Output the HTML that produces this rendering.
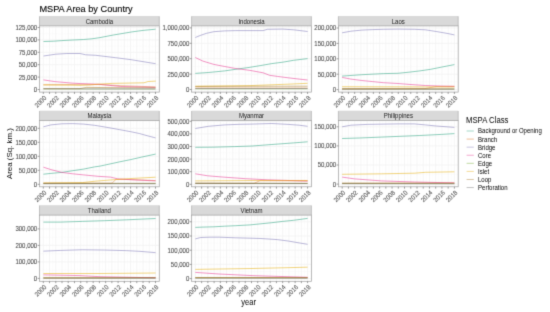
<!DOCTYPE html><html><head><meta charset="utf-8"><style>html,body{margin:0;padding:0;background:#fff;overflow:hidden;}svg{display:block;}</style></head><body>
<svg width="550" height="312" viewBox="0 0 550 312" font-family='"Liberation Sans", sans-serif'>
<defs><filter id="bl" x="0" y="0" width="550" height="312" filterUnits="userSpaceOnUse" color-interpolation-filters="sRGB"><feConvolveMatrix order="3" kernelMatrix="1 6 1 6 36 6 1 6 1" divisor="64" edgeMode="duplicate" preserveAlpha="true"/></filter></defs>
<style>text{stroke-width:0.12px;stroke-linejoin:round}.k{fill:#000;stroke:#000}.k0{fill:#000;stroke:none}.g{fill:#4d4d4d;stroke:#4d4d4d;stroke-width:0.08px}.s{fill:#1a1a1a;stroke:none}</style>
<g filter="url(#bl)">
<rect x="0" y="0" width="550" height="312" fill="#ffffff"/>
<text x="39.4" y="12.1" font-size="9.2" class="k">MSPA Area by Country</text>
<text transform="translate(12.3,153.6) rotate(-90)" text-anchor="middle" font-size="7.9" class="k0">Area (Sq. km.)</text>
<text transform="translate(248.6,304.6) scale(1,1.1)" text-anchor="middle" font-size="7.6" class="k0">year</text>
<g>
<rect x="39.5" y="25.9" width="119.8" height="66.2" fill="#fff"/>
<clipPath id="cCambodia"><rect x="39.5" y="25.9" width="119.8" height="66.2"/></clipPath>
<g clip-path="url(#cCambodia)">
<line x1="39.5" x2="159.3" y1="83.3" y2="83.3" stroke="#f6f6f6" stroke-width="0.36"/>
<line x1="39.5" x2="159.3" y1="70.9" y2="70.9" stroke="#f6f6f6" stroke-width="0.36"/>
<line x1="39.5" x2="159.3" y1="58.5" y2="58.5" stroke="#f6f6f6" stroke-width="0.36"/>
<line x1="39.5" x2="159.3" y1="46.1" y2="46.1" stroke="#f6f6f6" stroke-width="0.36"/>
<line x1="39.5" x2="159.3" y1="33.7" y2="33.7" stroke="#f6f6f6" stroke-width="0.36"/>
<line x1="40.18" x2="40.18" y1="25.9" y2="92.1" stroke="#f6f6f6" stroke-width="0.36"/>
<line x1="46.42" x2="46.42" y1="25.9" y2="92.1" stroke="#f6f6f6" stroke-width="0.36"/>
<line x1="52.65" x2="52.65" y1="25.9" y2="92.1" stroke="#f6f6f6" stroke-width="0.36"/>
<line x1="58.88" x2="58.88" y1="25.9" y2="92.1" stroke="#f6f6f6" stroke-width="0.36"/>
<line x1="65.12" x2="65.12" y1="25.9" y2="92.1" stroke="#f6f6f6" stroke-width="0.36"/>
<line x1="71.35" x2="71.35" y1="25.9" y2="92.1" stroke="#f6f6f6" stroke-width="0.36"/>
<line x1="77.58" x2="77.58" y1="25.9" y2="92.1" stroke="#f6f6f6" stroke-width="0.36"/>
<line x1="83.81" x2="83.81" y1="25.9" y2="92.1" stroke="#f6f6f6" stroke-width="0.36"/>
<line x1="90.05" x2="90.05" y1="25.9" y2="92.1" stroke="#f6f6f6" stroke-width="0.36"/>
<line x1="96.28" x2="96.28" y1="25.9" y2="92.1" stroke="#f6f6f6" stroke-width="0.36"/>
<line x1="102.51" x2="102.51" y1="25.9" y2="92.1" stroke="#f6f6f6" stroke-width="0.36"/>
<line x1="108.75" x2="108.75" y1="25.9" y2="92.1" stroke="#f6f6f6" stroke-width="0.36"/>
<line x1="114.98" x2="114.98" y1="25.9" y2="92.1" stroke="#f6f6f6" stroke-width="0.36"/>
<line x1="121.21" x2="121.21" y1="25.9" y2="92.1" stroke="#f6f6f6" stroke-width="0.36"/>
<line x1="127.45" x2="127.45" y1="25.9" y2="92.1" stroke="#f6f6f6" stroke-width="0.36"/>
<line x1="133.68" x2="133.68" y1="25.9" y2="92.1" stroke="#f6f6f6" stroke-width="0.36"/>
<line x1="139.91" x2="139.91" y1="25.9" y2="92.1" stroke="#f6f6f6" stroke-width="0.36"/>
<line x1="146.14" x2="146.14" y1="25.9" y2="92.1" stroke="#f6f6f6" stroke-width="0.36"/>
<line x1="152.38" x2="152.38" y1="25.9" y2="92.1" stroke="#f6f6f6" stroke-width="0.36"/>
<line x1="158.61" x2="158.61" y1="25.9" y2="92.1" stroke="#f6f6f6" stroke-width="0.36"/>
<line x1="39.5" x2="159.3" y1="89.5" y2="89.5" stroke="#f1f1f1" stroke-width="0.72"/>
<line x1="39.5" x2="159.3" y1="77.1" y2="77.1" stroke="#f1f1f1" stroke-width="0.72"/>
<line x1="39.5" x2="159.3" y1="64.7" y2="64.7" stroke="#f1f1f1" stroke-width="0.72"/>
<line x1="39.5" x2="159.3" y1="52.3" y2="52.3" stroke="#f1f1f1" stroke-width="0.72"/>
<line x1="39.5" x2="159.3" y1="39.9" y2="39.9" stroke="#f1f1f1" stroke-width="0.72"/>
<line x1="39.5" x2="159.3" y1="27.5" y2="27.5" stroke="#f1f1f1" stroke-width="0.72"/>
<line x1="43.3" x2="43.3" y1="25.9" y2="92.1" stroke="#f1f1f1" stroke-width="0.72"/>
<line x1="49.53" x2="49.53" y1="25.9" y2="92.1" stroke="#f1f1f1" stroke-width="0.72"/>
<line x1="55.77" x2="55.77" y1="25.9" y2="92.1" stroke="#f1f1f1" stroke-width="0.72"/>
<line x1="62" x2="62" y1="25.9" y2="92.1" stroke="#f1f1f1" stroke-width="0.72"/>
<line x1="68.23" x2="68.23" y1="25.9" y2="92.1" stroke="#f1f1f1" stroke-width="0.72"/>
<line x1="74.47" x2="74.47" y1="25.9" y2="92.1" stroke="#f1f1f1" stroke-width="0.72"/>
<line x1="80.7" x2="80.7" y1="25.9" y2="92.1" stroke="#f1f1f1" stroke-width="0.72"/>
<line x1="86.93" x2="86.93" y1="25.9" y2="92.1" stroke="#f1f1f1" stroke-width="0.72"/>
<line x1="93.16" x2="93.16" y1="25.9" y2="92.1" stroke="#f1f1f1" stroke-width="0.72"/>
<line x1="99.4" x2="99.4" y1="25.9" y2="92.1" stroke="#f1f1f1" stroke-width="0.72"/>
<line x1="105.63" x2="105.63" y1="25.9" y2="92.1" stroke="#f1f1f1" stroke-width="0.72"/>
<line x1="111.86" x2="111.86" y1="25.9" y2="92.1" stroke="#f1f1f1" stroke-width="0.72"/>
<line x1="118.1" x2="118.1" y1="25.9" y2="92.1" stroke="#f1f1f1" stroke-width="0.72"/>
<line x1="124.33" x2="124.33" y1="25.9" y2="92.1" stroke="#f1f1f1" stroke-width="0.72"/>
<line x1="130.56" x2="130.56" y1="25.9" y2="92.1" stroke="#f1f1f1" stroke-width="0.72"/>
<line x1="136.79" x2="136.79" y1="25.9" y2="92.1" stroke="#f1f1f1" stroke-width="0.72"/>
<line x1="143.03" x2="143.03" y1="25.9" y2="92.1" stroke="#f1f1f1" stroke-width="0.72"/>
<line x1="149.26" x2="149.26" y1="25.9" y2="92.1" stroke="#f1f1f1" stroke-width="0.72"/>
<line x1="155.49" x2="155.49" y1="25.9" y2="92.1" stroke="#f1f1f1" stroke-width="0.72"/>
<polyline points="43.5,41.5 53.5,41.2 61.8,40.6 72.7,40 83.6,39.5 92,38.8 100,37.6 113.4,35 131.2,32 143,30.4 155.6,29.2" fill="none" stroke="#1B9E77" stroke-width="1.0" stroke-opacity="0.5" stroke-linejoin="round" stroke-linecap="butt"/>
<polyline points="43.4,84.7 70,84.5 80,84.4 98,84.4 120,85.6 155.5,86.9" fill="none" stroke="#D95F02" stroke-width="1.0" stroke-opacity="0.38" stroke-linejoin="round" stroke-linecap="butt"/>
<polyline points="43.5,56 55.7,54.2 66.8,53.5 80.1,53.5 85.7,54.8 95.7,55.3 115.6,57.7 131.2,59.7 148.9,62.6 155.6,63.7" fill="none" stroke="#7570B3" stroke-width="1.0" stroke-opacity="0.5" stroke-linejoin="round" stroke-linecap="butt"/>
<polyline points="43.4,79.9 54.9,81.6 71.8,83.1 80.8,83.6 100,84.4 120.5,86.5 155.5,87.4" fill="none" stroke="#E7298A" stroke-width="1.0" stroke-opacity="0.5" stroke-linejoin="round" stroke-linecap="butt"/>
<polyline points="43.4,89.1 155.5,89.2" fill="none" stroke="#66A61E" stroke-width="1.0" stroke-opacity="0.3" stroke-linejoin="round" stroke-linecap="butt"/>
<polyline points="43.4,85 70,85.2 80,85.4 90,85 98,84.2 112.2,83.4 143.8,82.8 148.2,81.5 155.8,81.1" fill="none" stroke="#E6AB02" stroke-width="1.0" stroke-opacity="0.5" stroke-linejoin="round" stroke-linecap="butt"/>
<polyline points="43.4,88.6 80,88.6 86.6,87.4 120,87.7 155.5,87.9" fill="none" stroke="#A6761D" stroke-width="1.0" stroke-opacity="0.5" stroke-linejoin="round" stroke-linecap="butt"/>
<polyline points="43.4,88.8 155.5,88.9" fill="none" stroke="#666666" stroke-width="1.0" stroke-opacity="0.5" stroke-linejoin="round" stroke-linecap="butt"/>
</g>
<rect x="39.5" y="16" width="119.8" height="9.9" fill="#d9d9d9"/>
<path d="M39.5,25.9V16.3M159.3,16.3V25.9" fill="none" stroke="#b0b0b0" stroke-width="0.72"/>
<rect x="39.5" y="25.9" width="119.8" height="66.2" fill="none" stroke="#a0a0a0" stroke-width="0.72"/>
<text transform="translate(99.4,23.7) scale(1,1.07)" text-anchor="middle" font-size="6.05" class="s">Cambodia</text>
<line x1="37.65" x2="39.5" y1="89.5" y2="89.5" stroke="#777" stroke-width="0.72"/>
<text transform="translate(37.2,91.95) scale(1,1.07)" text-anchor="end" font-size="6.05" class="g">0</text>
<line x1="37.65" x2="39.5" y1="77.1" y2="77.1" stroke="#777" stroke-width="0.72"/>
<text transform="translate(37.2,79.55) scale(1,1.07)" text-anchor="end" font-size="6.05" class="g">25,000</text>
<line x1="37.65" x2="39.5" y1="64.7" y2="64.7" stroke="#777" stroke-width="0.72"/>
<text transform="translate(37.2,67.15) scale(1,1.07)" text-anchor="end" font-size="6.05" class="g">50,000</text>
<line x1="37.65" x2="39.5" y1="52.3" y2="52.3" stroke="#777" stroke-width="0.72"/>
<text transform="translate(37.2,54.75) scale(1,1.07)" text-anchor="end" font-size="6.05" class="g">75,000</text>
<line x1="37.65" x2="39.5" y1="39.9" y2="39.9" stroke="#777" stroke-width="0.72"/>
<text transform="translate(37.2,42.35) scale(1,1.07)" text-anchor="end" font-size="6.05" class="g">100,000</text>
<line x1="37.65" x2="39.5" y1="27.5" y2="27.5" stroke="#777" stroke-width="0.72"/>
<text transform="translate(37.2,29.95) scale(1,1.07)" text-anchor="end" font-size="6.05" class="g">125,000</text>
<line x1="43.3" x2="43.3" y1="92.1" y2="93.95" stroke="#777" stroke-width="0.72"/>
<text transform="translate(46.8,98.4) rotate(-45) scale(1,1.07)" text-anchor="end" font-size="6.05" class="g">2000</text>
<line x1="49.53" x2="49.53" y1="92.1" y2="93.95" stroke="#777" stroke-width="0.72"/>
<line x1="55.77" x2="55.77" y1="92.1" y2="93.95" stroke="#777" stroke-width="0.72"/>
<text transform="translate(59.27,98.4) rotate(-45) scale(1,1.07)" text-anchor="end" font-size="6.05" class="g">2002</text>
<line x1="62" x2="62" y1="92.1" y2="93.95" stroke="#777" stroke-width="0.72"/>
<line x1="68.23" x2="68.23" y1="92.1" y2="93.95" stroke="#777" stroke-width="0.72"/>
<text transform="translate(71.73,98.4) rotate(-45) scale(1,1.07)" text-anchor="end" font-size="6.05" class="g">2004</text>
<line x1="74.47" x2="74.47" y1="92.1" y2="93.95" stroke="#777" stroke-width="0.72"/>
<line x1="80.7" x2="80.7" y1="92.1" y2="93.95" stroke="#777" stroke-width="0.72"/>
<text transform="translate(84.2,98.4) rotate(-45) scale(1,1.07)" text-anchor="end" font-size="6.05" class="g">2006</text>
<line x1="86.93" x2="86.93" y1="92.1" y2="93.95" stroke="#777" stroke-width="0.72"/>
<line x1="93.16" x2="93.16" y1="92.1" y2="93.95" stroke="#777" stroke-width="0.72"/>
<text transform="translate(96.66,98.4) rotate(-45) scale(1,1.07)" text-anchor="end" font-size="6.05" class="g">2008</text>
<line x1="99.4" x2="99.4" y1="92.1" y2="93.95" stroke="#777" stroke-width="0.72"/>
<line x1="105.63" x2="105.63" y1="92.1" y2="93.95" stroke="#777" stroke-width="0.72"/>
<text transform="translate(109.13,98.4) rotate(-45) scale(1,1.07)" text-anchor="end" font-size="6.05" class="g">2010</text>
<line x1="111.86" x2="111.86" y1="92.1" y2="93.95" stroke="#777" stroke-width="0.72"/>
<line x1="118.1" x2="118.1" y1="92.1" y2="93.95" stroke="#777" stroke-width="0.72"/>
<text transform="translate(121.6,98.4) rotate(-45) scale(1,1.07)" text-anchor="end" font-size="6.05" class="g">2012</text>
<line x1="124.33" x2="124.33" y1="92.1" y2="93.95" stroke="#777" stroke-width="0.72"/>
<line x1="130.56" x2="130.56" y1="92.1" y2="93.95" stroke="#777" stroke-width="0.72"/>
<text transform="translate(134.06,98.4) rotate(-45) scale(1,1.07)" text-anchor="end" font-size="6.05" class="g">2014</text>
<line x1="136.79" x2="136.79" y1="92.1" y2="93.95" stroke="#777" stroke-width="0.72"/>
<line x1="143.03" x2="143.03" y1="92.1" y2="93.95" stroke="#777" stroke-width="0.72"/>
<text transform="translate(146.53,98.4) rotate(-45) scale(1,1.07)" text-anchor="end" font-size="6.05" class="g">2016</text>
<line x1="149.26" x2="149.26" y1="92.1" y2="93.95" stroke="#777" stroke-width="0.72"/>
<line x1="155.49" x2="155.49" y1="92.1" y2="93.95" stroke="#777" stroke-width="0.72"/>
<text transform="translate(158.99,98.4) rotate(-45) scale(1,1.07)" text-anchor="end" font-size="6.05" class="g">2018</text>
</g>
<g>
<rect x="191.6" y="25.9" width="119.8" height="66.2" fill="#fff"/>
<clipPath id="cIndonesia"><rect x="191.6" y="25.9" width="119.8" height="66.2"/></clipPath>
<g clip-path="url(#cIndonesia)">
<line x1="191.6" x2="311.4" y1="81.8" y2="81.8" stroke="#f6f6f6" stroke-width="0.36"/>
<line x1="191.6" x2="311.4" y1="66.4" y2="66.4" stroke="#f6f6f6" stroke-width="0.36"/>
<line x1="191.6" x2="311.4" y1="51" y2="51" stroke="#f6f6f6" stroke-width="0.36"/>
<line x1="191.6" x2="311.4" y1="35.6" y2="35.6" stroke="#f6f6f6" stroke-width="0.36"/>
<line x1="192.28" x2="192.28" y1="25.9" y2="92.1" stroke="#f6f6f6" stroke-width="0.36"/>
<line x1="198.52" x2="198.52" y1="25.9" y2="92.1" stroke="#f6f6f6" stroke-width="0.36"/>
<line x1="204.75" x2="204.75" y1="25.9" y2="92.1" stroke="#f6f6f6" stroke-width="0.36"/>
<line x1="210.98" x2="210.98" y1="25.9" y2="92.1" stroke="#f6f6f6" stroke-width="0.36"/>
<line x1="217.22" x2="217.22" y1="25.9" y2="92.1" stroke="#f6f6f6" stroke-width="0.36"/>
<line x1="223.45" x2="223.45" y1="25.9" y2="92.1" stroke="#f6f6f6" stroke-width="0.36"/>
<line x1="229.68" x2="229.68" y1="25.9" y2="92.1" stroke="#f6f6f6" stroke-width="0.36"/>
<line x1="235.91" x2="235.91" y1="25.9" y2="92.1" stroke="#f6f6f6" stroke-width="0.36"/>
<line x1="242.15" x2="242.15" y1="25.9" y2="92.1" stroke="#f6f6f6" stroke-width="0.36"/>
<line x1="248.38" x2="248.38" y1="25.9" y2="92.1" stroke="#f6f6f6" stroke-width="0.36"/>
<line x1="254.61" x2="254.61" y1="25.9" y2="92.1" stroke="#f6f6f6" stroke-width="0.36"/>
<line x1="260.85" x2="260.85" y1="25.9" y2="92.1" stroke="#f6f6f6" stroke-width="0.36"/>
<line x1="267.08" x2="267.08" y1="25.9" y2="92.1" stroke="#f6f6f6" stroke-width="0.36"/>
<line x1="273.31" x2="273.31" y1="25.9" y2="92.1" stroke="#f6f6f6" stroke-width="0.36"/>
<line x1="279.55" x2="279.55" y1="25.9" y2="92.1" stroke="#f6f6f6" stroke-width="0.36"/>
<line x1="285.78" x2="285.78" y1="25.9" y2="92.1" stroke="#f6f6f6" stroke-width="0.36"/>
<line x1="292.01" x2="292.01" y1="25.9" y2="92.1" stroke="#f6f6f6" stroke-width="0.36"/>
<line x1="298.24" x2="298.24" y1="25.9" y2="92.1" stroke="#f6f6f6" stroke-width="0.36"/>
<line x1="304.48" x2="304.48" y1="25.9" y2="92.1" stroke="#f6f6f6" stroke-width="0.36"/>
<line x1="310.71" x2="310.71" y1="25.9" y2="92.1" stroke="#f6f6f6" stroke-width="0.36"/>
<line x1="191.6" x2="311.4" y1="89.5" y2="89.5" stroke="#f1f1f1" stroke-width="0.72"/>
<line x1="191.6" x2="311.4" y1="74.1" y2="74.1" stroke="#f1f1f1" stroke-width="0.72"/>
<line x1="191.6" x2="311.4" y1="58.7" y2="58.7" stroke="#f1f1f1" stroke-width="0.72"/>
<line x1="191.6" x2="311.4" y1="43.3" y2="43.3" stroke="#f1f1f1" stroke-width="0.72"/>
<line x1="191.6" x2="311.4" y1="27.9" y2="27.9" stroke="#f1f1f1" stroke-width="0.72"/>
<line x1="195.4" x2="195.4" y1="25.9" y2="92.1" stroke="#f1f1f1" stroke-width="0.72"/>
<line x1="201.63" x2="201.63" y1="25.9" y2="92.1" stroke="#f1f1f1" stroke-width="0.72"/>
<line x1="207.87" x2="207.87" y1="25.9" y2="92.1" stroke="#f1f1f1" stroke-width="0.72"/>
<line x1="214.1" x2="214.1" y1="25.9" y2="92.1" stroke="#f1f1f1" stroke-width="0.72"/>
<line x1="220.33" x2="220.33" y1="25.9" y2="92.1" stroke="#f1f1f1" stroke-width="0.72"/>
<line x1="226.56" x2="226.56" y1="25.9" y2="92.1" stroke="#f1f1f1" stroke-width="0.72"/>
<line x1="232.8" x2="232.8" y1="25.9" y2="92.1" stroke="#f1f1f1" stroke-width="0.72"/>
<line x1="239.03" x2="239.03" y1="25.9" y2="92.1" stroke="#f1f1f1" stroke-width="0.72"/>
<line x1="245.26" x2="245.26" y1="25.9" y2="92.1" stroke="#f1f1f1" stroke-width="0.72"/>
<line x1="251.5" x2="251.5" y1="25.9" y2="92.1" stroke="#f1f1f1" stroke-width="0.72"/>
<line x1="257.73" x2="257.73" y1="25.9" y2="92.1" stroke="#f1f1f1" stroke-width="0.72"/>
<line x1="263.96" x2="263.96" y1="25.9" y2="92.1" stroke="#f1f1f1" stroke-width="0.72"/>
<line x1="270.2" x2="270.2" y1="25.9" y2="92.1" stroke="#f1f1f1" stroke-width="0.72"/>
<line x1="276.43" x2="276.43" y1="25.9" y2="92.1" stroke="#f1f1f1" stroke-width="0.72"/>
<line x1="282.66" x2="282.66" y1="25.9" y2="92.1" stroke="#f1f1f1" stroke-width="0.72"/>
<line x1="288.89" x2="288.89" y1="25.9" y2="92.1" stroke="#f1f1f1" stroke-width="0.72"/>
<line x1="295.13" x2="295.13" y1="25.9" y2="92.1" stroke="#f1f1f1" stroke-width="0.72"/>
<line x1="301.36" x2="301.36" y1="25.9" y2="92.1" stroke="#f1f1f1" stroke-width="0.72"/>
<line x1="307.59" x2="307.59" y1="25.9" y2="92.1" stroke="#f1f1f1" stroke-width="0.72"/>
<polyline points="195.3,73.4 208.4,72.5 224.7,70.9 237.8,69 250,67.3 260.9,65.5 271.8,63.6 282.7,62.2 293.6,60.3 307.6,58.6" fill="none" stroke="#1B9E77" stroke-width="1.0" stroke-opacity="0.5" stroke-linejoin="round" stroke-linecap="butt"/>
<polyline points="195.3,88 307.6,88" fill="none" stroke="#D95F02" stroke-width="1.0" stroke-opacity="0.38" stroke-linejoin="round" stroke-linecap="butt"/>
<polyline points="195.3,37.5 200.7,35.3 206.2,33.4 213.8,31.7 224.7,30.9 235.6,30.6 252,30.6 263.1,30.6 267.4,29.3 282.7,29.1 293.6,29.8 307.6,31.5" fill="none" stroke="#7570B3" stroke-width="1.0" stroke-opacity="0.5" stroke-linejoin="round" stroke-linecap="butt"/>
<polyline points="195.3,57.5 202.9,61.1 213.8,64.4 224.7,66.5 235.6,68.5 250,70.4 263.1,72.8 269.6,75.3 277.3,76.4 288.2,77.8 299.1,79.1 307.6,80" fill="none" stroke="#E7298A" stroke-width="1.0" stroke-opacity="0.5" stroke-linejoin="round" stroke-linecap="butt"/>
<polyline points="195.3,89 307.6,89" fill="none" stroke="#66A61E" stroke-width="1.0" stroke-opacity="0.3" stroke-linejoin="round" stroke-linecap="butt"/>
<polyline points="195.3,86.2 250,85.6 290,84.1 307.6,83.3" fill="none" stroke="#E6AB02" stroke-width="1.0" stroke-opacity="0.5" stroke-linejoin="round" stroke-linecap="butt"/>
<polyline points="195.3,86.5 250,86.3 307.6,86.2" fill="none" stroke="#A6761D" stroke-width="1.0" stroke-opacity="0.5" stroke-linejoin="round" stroke-linecap="butt"/>
<polyline points="195.3,88.5 307.6,88.5" fill="none" stroke="#666666" stroke-width="1.0" stroke-opacity="0.5" stroke-linejoin="round" stroke-linecap="butt"/>
</g>
<rect x="191.6" y="16" width="119.8" height="9.9" fill="#d9d9d9"/>
<path d="M191.6,25.9V16.3M311.4,16.3V25.9" fill="none" stroke="#b0b0b0" stroke-width="0.72"/>
<rect x="191.6" y="25.9" width="119.8" height="66.2" fill="none" stroke="#a0a0a0" stroke-width="0.72"/>
<text transform="translate(251.5,23.7) scale(1,1.07)" text-anchor="middle" font-size="6.05" class="s">Indonesia</text>
<line x1="189.75" x2="191.6" y1="89.5" y2="89.5" stroke="#777" stroke-width="0.72"/>
<text transform="translate(189.3,91.95) scale(1,1.07)" text-anchor="end" font-size="6.05" class="g">0</text>
<line x1="189.75" x2="191.6" y1="74.1" y2="74.1" stroke="#777" stroke-width="0.72"/>
<text transform="translate(189.3,76.55) scale(1,1.07)" text-anchor="end" font-size="6.05" class="g">250,000</text>
<line x1="189.75" x2="191.6" y1="58.7" y2="58.7" stroke="#777" stroke-width="0.72"/>
<text transform="translate(189.3,61.15) scale(1,1.07)" text-anchor="end" font-size="6.05" class="g">500,000</text>
<line x1="189.75" x2="191.6" y1="43.3" y2="43.3" stroke="#777" stroke-width="0.72"/>
<text transform="translate(189.3,45.75) scale(1,1.07)" text-anchor="end" font-size="6.05" class="g">750,000</text>
<line x1="189.75" x2="191.6" y1="27.9" y2="27.9" stroke="#777" stroke-width="0.72"/>
<text transform="translate(189.3,30.35) scale(1,1.07)" text-anchor="end" font-size="6.05" class="g">1,000,000</text>
<line x1="195.4" x2="195.4" y1="92.1" y2="93.95" stroke="#777" stroke-width="0.72"/>
<text transform="translate(198.9,98.4) rotate(-45) scale(1,1.07)" text-anchor="end" font-size="6.05" class="g">2000</text>
<line x1="201.63" x2="201.63" y1="92.1" y2="93.95" stroke="#777" stroke-width="0.72"/>
<line x1="207.87" x2="207.87" y1="92.1" y2="93.95" stroke="#777" stroke-width="0.72"/>
<text transform="translate(211.37,98.4) rotate(-45) scale(1,1.07)" text-anchor="end" font-size="6.05" class="g">2002</text>
<line x1="214.1" x2="214.1" y1="92.1" y2="93.95" stroke="#777" stroke-width="0.72"/>
<line x1="220.33" x2="220.33" y1="92.1" y2="93.95" stroke="#777" stroke-width="0.72"/>
<text transform="translate(223.83,98.4) rotate(-45) scale(1,1.07)" text-anchor="end" font-size="6.05" class="g">2004</text>
<line x1="226.56" x2="226.56" y1="92.1" y2="93.95" stroke="#777" stroke-width="0.72"/>
<line x1="232.8" x2="232.8" y1="92.1" y2="93.95" stroke="#777" stroke-width="0.72"/>
<text transform="translate(236.3,98.4) rotate(-45) scale(1,1.07)" text-anchor="end" font-size="6.05" class="g">2006</text>
<line x1="239.03" x2="239.03" y1="92.1" y2="93.95" stroke="#777" stroke-width="0.72"/>
<line x1="245.26" x2="245.26" y1="92.1" y2="93.95" stroke="#777" stroke-width="0.72"/>
<text transform="translate(248.76,98.4) rotate(-45) scale(1,1.07)" text-anchor="end" font-size="6.05" class="g">2008</text>
<line x1="251.5" x2="251.5" y1="92.1" y2="93.95" stroke="#777" stroke-width="0.72"/>
<line x1="257.73" x2="257.73" y1="92.1" y2="93.95" stroke="#777" stroke-width="0.72"/>
<text transform="translate(261.23,98.4) rotate(-45) scale(1,1.07)" text-anchor="end" font-size="6.05" class="g">2010</text>
<line x1="263.96" x2="263.96" y1="92.1" y2="93.95" stroke="#777" stroke-width="0.72"/>
<line x1="270.2" x2="270.2" y1="92.1" y2="93.95" stroke="#777" stroke-width="0.72"/>
<text transform="translate(273.7,98.4) rotate(-45) scale(1,1.07)" text-anchor="end" font-size="6.05" class="g">2012</text>
<line x1="276.43" x2="276.43" y1="92.1" y2="93.95" stroke="#777" stroke-width="0.72"/>
<line x1="282.66" x2="282.66" y1="92.1" y2="93.95" stroke="#777" stroke-width="0.72"/>
<text transform="translate(286.16,98.4) rotate(-45) scale(1,1.07)" text-anchor="end" font-size="6.05" class="g">2014</text>
<line x1="288.89" x2="288.89" y1="92.1" y2="93.95" stroke="#777" stroke-width="0.72"/>
<line x1="295.13" x2="295.13" y1="92.1" y2="93.95" stroke="#777" stroke-width="0.72"/>
<text transform="translate(298.63,98.4) rotate(-45) scale(1,1.07)" text-anchor="end" font-size="6.05" class="g">2016</text>
<line x1="301.36" x2="301.36" y1="92.1" y2="93.95" stroke="#777" stroke-width="0.72"/>
<line x1="307.59" x2="307.59" y1="92.1" y2="93.95" stroke="#777" stroke-width="0.72"/>
<text transform="translate(311.09,98.4) rotate(-45) scale(1,1.07)" text-anchor="end" font-size="6.05" class="g">2018</text>
</g>
<g>
<rect x="338.4" y="25.9" width="119.8" height="66.2" fill="#fff"/>
<clipPath id="cLaos"><rect x="338.4" y="25.9" width="119.8" height="66.2"/></clipPath>
<g clip-path="url(#cLaos)">
<line x1="338.4" x2="458.2" y1="81.9" y2="81.9" stroke="#f6f6f6" stroke-width="0.36"/>
<line x1="338.4" x2="458.2" y1="66.5" y2="66.5" stroke="#f6f6f6" stroke-width="0.36"/>
<line x1="338.4" x2="458.2" y1="51.1" y2="51.1" stroke="#f6f6f6" stroke-width="0.36"/>
<line x1="338.4" x2="458.2" y1="35.7" y2="35.7" stroke="#f6f6f6" stroke-width="0.36"/>
<line x1="339.08" x2="339.08" y1="25.9" y2="92.1" stroke="#f6f6f6" stroke-width="0.36"/>
<line x1="345.32" x2="345.32" y1="25.9" y2="92.1" stroke="#f6f6f6" stroke-width="0.36"/>
<line x1="351.55" x2="351.55" y1="25.9" y2="92.1" stroke="#f6f6f6" stroke-width="0.36"/>
<line x1="357.78" x2="357.78" y1="25.9" y2="92.1" stroke="#f6f6f6" stroke-width="0.36"/>
<line x1="364.02" x2="364.02" y1="25.9" y2="92.1" stroke="#f6f6f6" stroke-width="0.36"/>
<line x1="370.25" x2="370.25" y1="25.9" y2="92.1" stroke="#f6f6f6" stroke-width="0.36"/>
<line x1="376.48" x2="376.48" y1="25.9" y2="92.1" stroke="#f6f6f6" stroke-width="0.36"/>
<line x1="382.71" x2="382.71" y1="25.9" y2="92.1" stroke="#f6f6f6" stroke-width="0.36"/>
<line x1="388.95" x2="388.95" y1="25.9" y2="92.1" stroke="#f6f6f6" stroke-width="0.36"/>
<line x1="395.18" x2="395.18" y1="25.9" y2="92.1" stroke="#f6f6f6" stroke-width="0.36"/>
<line x1="401.41" x2="401.41" y1="25.9" y2="92.1" stroke="#f6f6f6" stroke-width="0.36"/>
<line x1="407.65" x2="407.65" y1="25.9" y2="92.1" stroke="#f6f6f6" stroke-width="0.36"/>
<line x1="413.88" x2="413.88" y1="25.9" y2="92.1" stroke="#f6f6f6" stroke-width="0.36"/>
<line x1="420.11" x2="420.11" y1="25.9" y2="92.1" stroke="#f6f6f6" stroke-width="0.36"/>
<line x1="426.35" x2="426.35" y1="25.9" y2="92.1" stroke="#f6f6f6" stroke-width="0.36"/>
<line x1="432.58" x2="432.58" y1="25.9" y2="92.1" stroke="#f6f6f6" stroke-width="0.36"/>
<line x1="438.81" x2="438.81" y1="25.9" y2="92.1" stroke="#f6f6f6" stroke-width="0.36"/>
<line x1="445.04" x2="445.04" y1="25.9" y2="92.1" stroke="#f6f6f6" stroke-width="0.36"/>
<line x1="451.28" x2="451.28" y1="25.9" y2="92.1" stroke="#f6f6f6" stroke-width="0.36"/>
<line x1="457.51" x2="457.51" y1="25.9" y2="92.1" stroke="#f6f6f6" stroke-width="0.36"/>
<line x1="338.4" x2="458.2" y1="89.6" y2="89.6" stroke="#f1f1f1" stroke-width="0.72"/>
<line x1="338.4" x2="458.2" y1="74.2" y2="74.2" stroke="#f1f1f1" stroke-width="0.72"/>
<line x1="338.4" x2="458.2" y1="58.8" y2="58.8" stroke="#f1f1f1" stroke-width="0.72"/>
<line x1="338.4" x2="458.2" y1="43.4" y2="43.4" stroke="#f1f1f1" stroke-width="0.72"/>
<line x1="338.4" x2="458.2" y1="28" y2="28" stroke="#f1f1f1" stroke-width="0.72"/>
<line x1="342.2" x2="342.2" y1="25.9" y2="92.1" stroke="#f1f1f1" stroke-width="0.72"/>
<line x1="348.43" x2="348.43" y1="25.9" y2="92.1" stroke="#f1f1f1" stroke-width="0.72"/>
<line x1="354.67" x2="354.67" y1="25.9" y2="92.1" stroke="#f1f1f1" stroke-width="0.72"/>
<line x1="360.9" x2="360.9" y1="25.9" y2="92.1" stroke="#f1f1f1" stroke-width="0.72"/>
<line x1="367.13" x2="367.13" y1="25.9" y2="92.1" stroke="#f1f1f1" stroke-width="0.72"/>
<line x1="373.37" x2="373.37" y1="25.9" y2="92.1" stroke="#f1f1f1" stroke-width="0.72"/>
<line x1="379.6" x2="379.6" y1="25.9" y2="92.1" stroke="#f1f1f1" stroke-width="0.72"/>
<line x1="385.83" x2="385.83" y1="25.9" y2="92.1" stroke="#f1f1f1" stroke-width="0.72"/>
<line x1="392.06" x2="392.06" y1="25.9" y2="92.1" stroke="#f1f1f1" stroke-width="0.72"/>
<line x1="398.3" x2="398.3" y1="25.9" y2="92.1" stroke="#f1f1f1" stroke-width="0.72"/>
<line x1="404.53" x2="404.53" y1="25.9" y2="92.1" stroke="#f1f1f1" stroke-width="0.72"/>
<line x1="410.76" x2="410.76" y1="25.9" y2="92.1" stroke="#f1f1f1" stroke-width="0.72"/>
<line x1="417" x2="417" y1="25.9" y2="92.1" stroke="#f1f1f1" stroke-width="0.72"/>
<line x1="423.23" x2="423.23" y1="25.9" y2="92.1" stroke="#f1f1f1" stroke-width="0.72"/>
<line x1="429.46" x2="429.46" y1="25.9" y2="92.1" stroke="#f1f1f1" stroke-width="0.72"/>
<line x1="435.69" x2="435.69" y1="25.9" y2="92.1" stroke="#f1f1f1" stroke-width="0.72"/>
<line x1="441.93" x2="441.93" y1="25.9" y2="92.1" stroke="#f1f1f1" stroke-width="0.72"/>
<line x1="448.16" x2="448.16" y1="25.9" y2="92.1" stroke="#f1f1f1" stroke-width="0.72"/>
<line x1="454.39" x2="454.39" y1="25.9" y2="92.1" stroke="#f1f1f1" stroke-width="0.72"/>
<polyline points="342.1,76.1 361.8,74.7 383.6,73.6 398,73.3 408.9,72.2 419.8,70.9 430.7,69.3 441.6,67.1 454.4,64.6" fill="none" stroke="#1B9E77" stroke-width="1.0" stroke-opacity="0.5" stroke-linejoin="round" stroke-linecap="butt"/>
<polyline points="342.1,88.9 425,88.6 436,86.5 454.4,86.3" fill="none" stroke="#D95F02" stroke-width="1.0" stroke-opacity="0.38" stroke-linejoin="round" stroke-linecap="butt"/>
<polyline points="342.1,32.8 350.9,31.2 361.8,30.1 372.7,29.6 383.6,29.3 398,29.1 414.4,29.3 425.3,29.8 436.2,31.5 447.1,33.4 454.4,34.9" fill="none" stroke="#7570B3" stroke-width="1.0" stroke-opacity="0.5" stroke-linejoin="round" stroke-linecap="butt"/>
<polyline points="342.1,77.4 350.9,79.1 361.8,80.5 372.7,81.6 383.6,82.7 398,83.5 409,84.4 425.3,85.5 441.6,86.1 454.4,86.4" fill="none" stroke="#E7298A" stroke-width="1.0" stroke-opacity="0.5" stroke-linejoin="round" stroke-linecap="butt"/>
<polyline points="342.1,89 454.4,89.1" fill="none" stroke="#66A61E" stroke-width="1.0" stroke-opacity="0.3" stroke-linejoin="round" stroke-linecap="butt"/>
<polyline points="342.1,86.7 400,86.8 454.4,87" fill="none" stroke="#E6AB02" stroke-width="1.0" stroke-opacity="0.5" stroke-linejoin="round" stroke-linecap="butt"/>
<polyline points="342.1,88.8 454.4,88.9" fill="none" stroke="#A6761D" stroke-width="1.0" stroke-opacity="0.5" stroke-linejoin="round" stroke-linecap="butt"/>
<polyline points="342.1,89.2 454.4,89.2" fill="none" stroke="#666666" stroke-width="1.0" stroke-opacity="0.5" stroke-linejoin="round" stroke-linecap="butt"/>
</g>
<rect x="338.4" y="16" width="119.8" height="9.9" fill="#d9d9d9"/>
<path d="M338.4,25.9V16.3M458.2,16.3V25.9" fill="none" stroke="#b0b0b0" stroke-width="0.72"/>
<rect x="338.4" y="25.9" width="119.8" height="66.2" fill="none" stroke="#a0a0a0" stroke-width="0.72"/>
<text transform="translate(398.3,23.7) scale(1,1.07)" text-anchor="middle" font-size="6.05" class="s">Laos</text>
<line x1="336.55" x2="338.4" y1="89.6" y2="89.6" stroke="#777" stroke-width="0.72"/>
<text transform="translate(336.1,92.05) scale(1,1.07)" text-anchor="end" font-size="6.05" class="g">0</text>
<line x1="336.55" x2="338.4" y1="74.2" y2="74.2" stroke="#777" stroke-width="0.72"/>
<text transform="translate(336.1,76.65) scale(1,1.07)" text-anchor="end" font-size="6.05" class="g">50,000</text>
<line x1="336.55" x2="338.4" y1="58.8" y2="58.8" stroke="#777" stroke-width="0.72"/>
<text transform="translate(336.1,61.25) scale(1,1.07)" text-anchor="end" font-size="6.05" class="g">100,000</text>
<line x1="336.55" x2="338.4" y1="43.4" y2="43.4" stroke="#777" stroke-width="0.72"/>
<text transform="translate(336.1,45.85) scale(1,1.07)" text-anchor="end" font-size="6.05" class="g">150,000</text>
<line x1="336.55" x2="338.4" y1="28" y2="28" stroke="#777" stroke-width="0.72"/>
<text transform="translate(336.1,30.45) scale(1,1.07)" text-anchor="end" font-size="6.05" class="g">200,000</text>
<line x1="342.2" x2="342.2" y1="92.1" y2="93.95" stroke="#777" stroke-width="0.72"/>
<text transform="translate(345.7,98.4) rotate(-45) scale(1,1.07)" text-anchor="end" font-size="6.05" class="g">2000</text>
<line x1="348.43" x2="348.43" y1="92.1" y2="93.95" stroke="#777" stroke-width="0.72"/>
<line x1="354.67" x2="354.67" y1="92.1" y2="93.95" stroke="#777" stroke-width="0.72"/>
<text transform="translate(358.17,98.4) rotate(-45) scale(1,1.07)" text-anchor="end" font-size="6.05" class="g">2002</text>
<line x1="360.9" x2="360.9" y1="92.1" y2="93.95" stroke="#777" stroke-width="0.72"/>
<line x1="367.13" x2="367.13" y1="92.1" y2="93.95" stroke="#777" stroke-width="0.72"/>
<text transform="translate(370.63,98.4) rotate(-45) scale(1,1.07)" text-anchor="end" font-size="6.05" class="g">2004</text>
<line x1="373.37" x2="373.37" y1="92.1" y2="93.95" stroke="#777" stroke-width="0.72"/>
<line x1="379.6" x2="379.6" y1="92.1" y2="93.95" stroke="#777" stroke-width="0.72"/>
<text transform="translate(383.1,98.4) rotate(-45) scale(1,1.07)" text-anchor="end" font-size="6.05" class="g">2006</text>
<line x1="385.83" x2="385.83" y1="92.1" y2="93.95" stroke="#777" stroke-width="0.72"/>
<line x1="392.06" x2="392.06" y1="92.1" y2="93.95" stroke="#777" stroke-width="0.72"/>
<text transform="translate(395.56,98.4) rotate(-45) scale(1,1.07)" text-anchor="end" font-size="6.05" class="g">2008</text>
<line x1="398.3" x2="398.3" y1="92.1" y2="93.95" stroke="#777" stroke-width="0.72"/>
<line x1="404.53" x2="404.53" y1="92.1" y2="93.95" stroke="#777" stroke-width="0.72"/>
<text transform="translate(408.03,98.4) rotate(-45) scale(1,1.07)" text-anchor="end" font-size="6.05" class="g">2010</text>
<line x1="410.76" x2="410.76" y1="92.1" y2="93.95" stroke="#777" stroke-width="0.72"/>
<line x1="417" x2="417" y1="92.1" y2="93.95" stroke="#777" stroke-width="0.72"/>
<text transform="translate(420.5,98.4) rotate(-45) scale(1,1.07)" text-anchor="end" font-size="6.05" class="g">2012</text>
<line x1="423.23" x2="423.23" y1="92.1" y2="93.95" stroke="#777" stroke-width="0.72"/>
<line x1="429.46" x2="429.46" y1="92.1" y2="93.95" stroke="#777" stroke-width="0.72"/>
<text transform="translate(432.96,98.4) rotate(-45) scale(1,1.07)" text-anchor="end" font-size="6.05" class="g">2014</text>
<line x1="435.69" x2="435.69" y1="92.1" y2="93.95" stroke="#777" stroke-width="0.72"/>
<line x1="441.93" x2="441.93" y1="92.1" y2="93.95" stroke="#777" stroke-width="0.72"/>
<text transform="translate(445.43,98.4) rotate(-45) scale(1,1.07)" text-anchor="end" font-size="6.05" class="g">2016</text>
<line x1="448.16" x2="448.16" y1="92.1" y2="93.95" stroke="#777" stroke-width="0.72"/>
<line x1="454.39" x2="454.39" y1="92.1" y2="93.95" stroke="#777" stroke-width="0.72"/>
<text transform="translate(457.89,98.4) rotate(-45) scale(1,1.07)" text-anchor="end" font-size="6.05" class="g">2018</text>
</g>
<g>
<rect x="39.5" y="120.6" width="119.8" height="66.2" fill="#fff"/>
<clipPath id="cMalaysia"><rect x="39.5" y="120.6" width="119.8" height="66.2"/></clipPath>
<g clip-path="url(#cMalaysia)">
<line x1="39.5" x2="159.3" y1="177.3" y2="177.3" stroke="#f6f6f6" stroke-width="0.36"/>
<line x1="39.5" x2="159.3" y1="163.3" y2="163.3" stroke="#f6f6f6" stroke-width="0.36"/>
<line x1="39.5" x2="159.3" y1="149.3" y2="149.3" stroke="#f6f6f6" stroke-width="0.36"/>
<line x1="39.5" x2="159.3" y1="135.3" y2="135.3" stroke="#f6f6f6" stroke-width="0.36"/>
<line x1="39.5" x2="159.3" y1="121.3" y2="121.3" stroke="#f6f6f6" stroke-width="0.36"/>
<line x1="40.18" x2="40.18" y1="120.6" y2="186.8" stroke="#f6f6f6" stroke-width="0.36"/>
<line x1="46.42" x2="46.42" y1="120.6" y2="186.8" stroke="#f6f6f6" stroke-width="0.36"/>
<line x1="52.65" x2="52.65" y1="120.6" y2="186.8" stroke="#f6f6f6" stroke-width="0.36"/>
<line x1="58.88" x2="58.88" y1="120.6" y2="186.8" stroke="#f6f6f6" stroke-width="0.36"/>
<line x1="65.12" x2="65.12" y1="120.6" y2="186.8" stroke="#f6f6f6" stroke-width="0.36"/>
<line x1="71.35" x2="71.35" y1="120.6" y2="186.8" stroke="#f6f6f6" stroke-width="0.36"/>
<line x1="77.58" x2="77.58" y1="120.6" y2="186.8" stroke="#f6f6f6" stroke-width="0.36"/>
<line x1="83.81" x2="83.81" y1="120.6" y2="186.8" stroke="#f6f6f6" stroke-width="0.36"/>
<line x1="90.05" x2="90.05" y1="120.6" y2="186.8" stroke="#f6f6f6" stroke-width="0.36"/>
<line x1="96.28" x2="96.28" y1="120.6" y2="186.8" stroke="#f6f6f6" stroke-width="0.36"/>
<line x1="102.51" x2="102.51" y1="120.6" y2="186.8" stroke="#f6f6f6" stroke-width="0.36"/>
<line x1="108.75" x2="108.75" y1="120.6" y2="186.8" stroke="#f6f6f6" stroke-width="0.36"/>
<line x1="114.98" x2="114.98" y1="120.6" y2="186.8" stroke="#f6f6f6" stroke-width="0.36"/>
<line x1="121.21" x2="121.21" y1="120.6" y2="186.8" stroke="#f6f6f6" stroke-width="0.36"/>
<line x1="127.45" x2="127.45" y1="120.6" y2="186.8" stroke="#f6f6f6" stroke-width="0.36"/>
<line x1="133.68" x2="133.68" y1="120.6" y2="186.8" stroke="#f6f6f6" stroke-width="0.36"/>
<line x1="139.91" x2="139.91" y1="120.6" y2="186.8" stroke="#f6f6f6" stroke-width="0.36"/>
<line x1="146.14" x2="146.14" y1="120.6" y2="186.8" stroke="#f6f6f6" stroke-width="0.36"/>
<line x1="152.38" x2="152.38" y1="120.6" y2="186.8" stroke="#f6f6f6" stroke-width="0.36"/>
<line x1="158.61" x2="158.61" y1="120.6" y2="186.8" stroke="#f6f6f6" stroke-width="0.36"/>
<line x1="39.5" x2="159.3" y1="184.3" y2="184.3" stroke="#f1f1f1" stroke-width="0.72"/>
<line x1="39.5" x2="159.3" y1="170.3" y2="170.3" stroke="#f1f1f1" stroke-width="0.72"/>
<line x1="39.5" x2="159.3" y1="156.3" y2="156.3" stroke="#f1f1f1" stroke-width="0.72"/>
<line x1="39.5" x2="159.3" y1="142.3" y2="142.3" stroke="#f1f1f1" stroke-width="0.72"/>
<line x1="39.5" x2="159.3" y1="128.3" y2="128.3" stroke="#f1f1f1" stroke-width="0.72"/>
<line x1="43.3" x2="43.3" y1="120.6" y2="186.8" stroke="#f1f1f1" stroke-width="0.72"/>
<line x1="49.53" x2="49.53" y1="120.6" y2="186.8" stroke="#f1f1f1" stroke-width="0.72"/>
<line x1="55.77" x2="55.77" y1="120.6" y2="186.8" stroke="#f1f1f1" stroke-width="0.72"/>
<line x1="62" x2="62" y1="120.6" y2="186.8" stroke="#f1f1f1" stroke-width="0.72"/>
<line x1="68.23" x2="68.23" y1="120.6" y2="186.8" stroke="#f1f1f1" stroke-width="0.72"/>
<line x1="74.47" x2="74.47" y1="120.6" y2="186.8" stroke="#f1f1f1" stroke-width="0.72"/>
<line x1="80.7" x2="80.7" y1="120.6" y2="186.8" stroke="#f1f1f1" stroke-width="0.72"/>
<line x1="86.93" x2="86.93" y1="120.6" y2="186.8" stroke="#f1f1f1" stroke-width="0.72"/>
<line x1="93.16" x2="93.16" y1="120.6" y2="186.8" stroke="#f1f1f1" stroke-width="0.72"/>
<line x1="99.4" x2="99.4" y1="120.6" y2="186.8" stroke="#f1f1f1" stroke-width="0.72"/>
<line x1="105.63" x2="105.63" y1="120.6" y2="186.8" stroke="#f1f1f1" stroke-width="0.72"/>
<line x1="111.86" x2="111.86" y1="120.6" y2="186.8" stroke="#f1f1f1" stroke-width="0.72"/>
<line x1="118.1" x2="118.1" y1="120.6" y2="186.8" stroke="#f1f1f1" stroke-width="0.72"/>
<line x1="124.33" x2="124.33" y1="120.6" y2="186.8" stroke="#f1f1f1" stroke-width="0.72"/>
<line x1="130.56" x2="130.56" y1="120.6" y2="186.8" stroke="#f1f1f1" stroke-width="0.72"/>
<line x1="136.79" x2="136.79" y1="120.6" y2="186.8" stroke="#f1f1f1" stroke-width="0.72"/>
<line x1="143.03" x2="143.03" y1="120.6" y2="186.8" stroke="#f1f1f1" stroke-width="0.72"/>
<line x1="149.26" x2="149.26" y1="120.6" y2="186.8" stroke="#f1f1f1" stroke-width="0.72"/>
<line x1="155.49" x2="155.49" y1="120.6" y2="186.8" stroke="#f1f1f1" stroke-width="0.72"/>
<polyline points="43.4,174.2 50.9,173.4 61.8,172.4 72.7,170.7 83.6,169.1 94.5,166.9 100,166.1 108.9,164.2 119.8,161.8 130.7,159.6 141.6,157.1 155.6,154.1" fill="none" stroke="#1B9E77" stroke-width="1.0" stroke-opacity="0.5" stroke-linejoin="round" stroke-linecap="butt"/>
<polyline points="43.4,183.2 112,183.2 116,179.3 135,179.7 155.6,180.6" fill="none" stroke="#D95F02" stroke-width="1.0" stroke-opacity="0.38" stroke-linejoin="round" stroke-linecap="butt"/>
<polyline points="43.4,126.8 50.9,124.9 61.8,123.8 72.7,123.6 83.6,124.1 94.5,125.3 100,126.2 108.9,127.7 119.8,129.7 130.7,131.7 139.4,133.5 147.1,135.7 155.6,137.9" fill="none" stroke="#7570B3" stroke-width="1.0" stroke-opacity="0.5" stroke-linejoin="round" stroke-linecap="butt"/>
<polyline points="43.4,167.2 50.9,169.6 61.8,172.4 72.7,173.8 83.6,174.9 98,176.3 110.5,177.1 117.8,178.9 136,180 155.6,180.9" fill="none" stroke="#E7298A" stroke-width="1.0" stroke-opacity="0.5" stroke-linejoin="round" stroke-linecap="butt"/>
<polyline points="43.4,183.5 155.6,183.5" fill="none" stroke="#66A61E" stroke-width="1.0" stroke-opacity="0.3" stroke-linejoin="round" stroke-linecap="butt"/>
<polyline points="43.4,183 82.4,182.6 96,181.1 126,178.8 155.6,177.2" fill="none" stroke="#E6AB02" stroke-width="1.0" stroke-opacity="0.5" stroke-linejoin="round" stroke-linecap="butt"/>
<polyline points="43.4,183.3 155.6,183.3" fill="none" stroke="#A6761D" stroke-width="1.0" stroke-opacity="0.5" stroke-linejoin="round" stroke-linecap="butt"/>
<polyline points="43.4,183.7 155.6,183.7" fill="none" stroke="#666666" stroke-width="1.0" stroke-opacity="0.5" stroke-linejoin="round" stroke-linecap="butt"/>
</g>
<rect x="39.5" y="110.7" width="119.8" height="9.9" fill="#d9d9d9"/>
<path d="M39.5,120.6V111M159.3,111V120.6" fill="none" stroke="#b0b0b0" stroke-width="0.72"/>
<rect x="39.5" y="120.6" width="119.8" height="66.2" fill="none" stroke="#a0a0a0" stroke-width="0.72"/>
<text transform="translate(99.4,118.4) scale(1,1.07)" text-anchor="middle" font-size="6.05" class="s">Malaysia</text>
<line x1="37.65" x2="39.5" y1="184.3" y2="184.3" stroke="#777" stroke-width="0.72"/>
<text transform="translate(37.2,186.75) scale(1,1.07)" text-anchor="end" font-size="6.05" class="g">0</text>
<line x1="37.65" x2="39.5" y1="170.3" y2="170.3" stroke="#777" stroke-width="0.72"/>
<text transform="translate(37.2,172.75) scale(1,1.07)" text-anchor="end" font-size="6.05" class="g">50,000</text>
<line x1="37.65" x2="39.5" y1="156.3" y2="156.3" stroke="#777" stroke-width="0.72"/>
<text transform="translate(37.2,158.75) scale(1,1.07)" text-anchor="end" font-size="6.05" class="g">100,000</text>
<line x1="37.65" x2="39.5" y1="142.3" y2="142.3" stroke="#777" stroke-width="0.72"/>
<text transform="translate(37.2,144.75) scale(1,1.07)" text-anchor="end" font-size="6.05" class="g">150,000</text>
<line x1="37.65" x2="39.5" y1="128.3" y2="128.3" stroke="#777" stroke-width="0.72"/>
<text transform="translate(37.2,130.75) scale(1,1.07)" text-anchor="end" font-size="6.05" class="g">200,000</text>
<line x1="43.3" x2="43.3" y1="186.8" y2="188.65" stroke="#777" stroke-width="0.72"/>
<text transform="translate(46.8,193.1) rotate(-45) scale(1,1.07)" text-anchor="end" font-size="6.05" class="g">2000</text>
<line x1="49.53" x2="49.53" y1="186.8" y2="188.65" stroke="#777" stroke-width="0.72"/>
<line x1="55.77" x2="55.77" y1="186.8" y2="188.65" stroke="#777" stroke-width="0.72"/>
<text transform="translate(59.27,193.1) rotate(-45) scale(1,1.07)" text-anchor="end" font-size="6.05" class="g">2002</text>
<line x1="62" x2="62" y1="186.8" y2="188.65" stroke="#777" stroke-width="0.72"/>
<line x1="68.23" x2="68.23" y1="186.8" y2="188.65" stroke="#777" stroke-width="0.72"/>
<text transform="translate(71.73,193.1) rotate(-45) scale(1,1.07)" text-anchor="end" font-size="6.05" class="g">2004</text>
<line x1="74.47" x2="74.47" y1="186.8" y2="188.65" stroke="#777" stroke-width="0.72"/>
<line x1="80.7" x2="80.7" y1="186.8" y2="188.65" stroke="#777" stroke-width="0.72"/>
<text transform="translate(84.2,193.1) rotate(-45) scale(1,1.07)" text-anchor="end" font-size="6.05" class="g">2006</text>
<line x1="86.93" x2="86.93" y1="186.8" y2="188.65" stroke="#777" stroke-width="0.72"/>
<line x1="93.16" x2="93.16" y1="186.8" y2="188.65" stroke="#777" stroke-width="0.72"/>
<text transform="translate(96.66,193.1) rotate(-45) scale(1,1.07)" text-anchor="end" font-size="6.05" class="g">2008</text>
<line x1="99.4" x2="99.4" y1="186.8" y2="188.65" stroke="#777" stroke-width="0.72"/>
<line x1="105.63" x2="105.63" y1="186.8" y2="188.65" stroke="#777" stroke-width="0.72"/>
<text transform="translate(109.13,193.1) rotate(-45) scale(1,1.07)" text-anchor="end" font-size="6.05" class="g">2010</text>
<line x1="111.86" x2="111.86" y1="186.8" y2="188.65" stroke="#777" stroke-width="0.72"/>
<line x1="118.1" x2="118.1" y1="186.8" y2="188.65" stroke="#777" stroke-width="0.72"/>
<text transform="translate(121.6,193.1) rotate(-45) scale(1,1.07)" text-anchor="end" font-size="6.05" class="g">2012</text>
<line x1="124.33" x2="124.33" y1="186.8" y2="188.65" stroke="#777" stroke-width="0.72"/>
<line x1="130.56" x2="130.56" y1="186.8" y2="188.65" stroke="#777" stroke-width="0.72"/>
<text transform="translate(134.06,193.1) rotate(-45) scale(1,1.07)" text-anchor="end" font-size="6.05" class="g">2014</text>
<line x1="136.79" x2="136.79" y1="186.8" y2="188.65" stroke="#777" stroke-width="0.72"/>
<line x1="143.03" x2="143.03" y1="186.8" y2="188.65" stroke="#777" stroke-width="0.72"/>
<text transform="translate(146.53,193.1) rotate(-45) scale(1,1.07)" text-anchor="end" font-size="6.05" class="g">2016</text>
<line x1="149.26" x2="149.26" y1="186.8" y2="188.65" stroke="#777" stroke-width="0.72"/>
<line x1="155.49" x2="155.49" y1="186.8" y2="188.65" stroke="#777" stroke-width="0.72"/>
<text transform="translate(158.99,193.1) rotate(-45) scale(1,1.07)" text-anchor="end" font-size="6.05" class="g">2018</text>
</g>
<g>
<rect x="191.6" y="120.6" width="119.8" height="66.2" fill="#fff"/>
<clipPath id="cMyanmar"><rect x="191.6" y="120.6" width="119.8" height="66.2"/></clipPath>
<g clip-path="url(#cMyanmar)">
<line x1="191.6" x2="311.4" y1="178" y2="178" stroke="#f6f6f6" stroke-width="0.36"/>
<line x1="191.6" x2="311.4" y1="165.4" y2="165.4" stroke="#f6f6f6" stroke-width="0.36"/>
<line x1="191.6" x2="311.4" y1="152.8" y2="152.8" stroke="#f6f6f6" stroke-width="0.36"/>
<line x1="191.6" x2="311.4" y1="140.2" y2="140.2" stroke="#f6f6f6" stroke-width="0.36"/>
<line x1="191.6" x2="311.4" y1="127.6" y2="127.6" stroke="#f6f6f6" stroke-width="0.36"/>
<line x1="192.28" x2="192.28" y1="120.6" y2="186.8" stroke="#f6f6f6" stroke-width="0.36"/>
<line x1="198.52" x2="198.52" y1="120.6" y2="186.8" stroke="#f6f6f6" stroke-width="0.36"/>
<line x1="204.75" x2="204.75" y1="120.6" y2="186.8" stroke="#f6f6f6" stroke-width="0.36"/>
<line x1="210.98" x2="210.98" y1="120.6" y2="186.8" stroke="#f6f6f6" stroke-width="0.36"/>
<line x1="217.22" x2="217.22" y1="120.6" y2="186.8" stroke="#f6f6f6" stroke-width="0.36"/>
<line x1="223.45" x2="223.45" y1="120.6" y2="186.8" stroke="#f6f6f6" stroke-width="0.36"/>
<line x1="229.68" x2="229.68" y1="120.6" y2="186.8" stroke="#f6f6f6" stroke-width="0.36"/>
<line x1="235.91" x2="235.91" y1="120.6" y2="186.8" stroke="#f6f6f6" stroke-width="0.36"/>
<line x1="242.15" x2="242.15" y1="120.6" y2="186.8" stroke="#f6f6f6" stroke-width="0.36"/>
<line x1="248.38" x2="248.38" y1="120.6" y2="186.8" stroke="#f6f6f6" stroke-width="0.36"/>
<line x1="254.61" x2="254.61" y1="120.6" y2="186.8" stroke="#f6f6f6" stroke-width="0.36"/>
<line x1="260.85" x2="260.85" y1="120.6" y2="186.8" stroke="#f6f6f6" stroke-width="0.36"/>
<line x1="267.08" x2="267.08" y1="120.6" y2="186.8" stroke="#f6f6f6" stroke-width="0.36"/>
<line x1="273.31" x2="273.31" y1="120.6" y2="186.8" stroke="#f6f6f6" stroke-width="0.36"/>
<line x1="279.55" x2="279.55" y1="120.6" y2="186.8" stroke="#f6f6f6" stroke-width="0.36"/>
<line x1="285.78" x2="285.78" y1="120.6" y2="186.8" stroke="#f6f6f6" stroke-width="0.36"/>
<line x1="292.01" x2="292.01" y1="120.6" y2="186.8" stroke="#f6f6f6" stroke-width="0.36"/>
<line x1="298.24" x2="298.24" y1="120.6" y2="186.8" stroke="#f6f6f6" stroke-width="0.36"/>
<line x1="304.48" x2="304.48" y1="120.6" y2="186.8" stroke="#f6f6f6" stroke-width="0.36"/>
<line x1="310.71" x2="310.71" y1="120.6" y2="186.8" stroke="#f6f6f6" stroke-width="0.36"/>
<line x1="191.6" x2="311.4" y1="184.3" y2="184.3" stroke="#f1f1f1" stroke-width="0.72"/>
<line x1="191.6" x2="311.4" y1="171.7" y2="171.7" stroke="#f1f1f1" stroke-width="0.72"/>
<line x1="191.6" x2="311.4" y1="159.1" y2="159.1" stroke="#f1f1f1" stroke-width="0.72"/>
<line x1="191.6" x2="311.4" y1="146.5" y2="146.5" stroke="#f1f1f1" stroke-width="0.72"/>
<line x1="191.6" x2="311.4" y1="133.9" y2="133.9" stroke="#f1f1f1" stroke-width="0.72"/>
<line x1="191.6" x2="311.4" y1="121.3" y2="121.3" stroke="#f1f1f1" stroke-width="0.72"/>
<line x1="195.4" x2="195.4" y1="120.6" y2="186.8" stroke="#f1f1f1" stroke-width="0.72"/>
<line x1="201.63" x2="201.63" y1="120.6" y2="186.8" stroke="#f1f1f1" stroke-width="0.72"/>
<line x1="207.87" x2="207.87" y1="120.6" y2="186.8" stroke="#f1f1f1" stroke-width="0.72"/>
<line x1="214.1" x2="214.1" y1="120.6" y2="186.8" stroke="#f1f1f1" stroke-width="0.72"/>
<line x1="220.33" x2="220.33" y1="120.6" y2="186.8" stroke="#f1f1f1" stroke-width="0.72"/>
<line x1="226.56" x2="226.56" y1="120.6" y2="186.8" stroke="#f1f1f1" stroke-width="0.72"/>
<line x1="232.8" x2="232.8" y1="120.6" y2="186.8" stroke="#f1f1f1" stroke-width="0.72"/>
<line x1="239.03" x2="239.03" y1="120.6" y2="186.8" stroke="#f1f1f1" stroke-width="0.72"/>
<line x1="245.26" x2="245.26" y1="120.6" y2="186.8" stroke="#f1f1f1" stroke-width="0.72"/>
<line x1="251.5" x2="251.5" y1="120.6" y2="186.8" stroke="#f1f1f1" stroke-width="0.72"/>
<line x1="257.73" x2="257.73" y1="120.6" y2="186.8" stroke="#f1f1f1" stroke-width="0.72"/>
<line x1="263.96" x2="263.96" y1="120.6" y2="186.8" stroke="#f1f1f1" stroke-width="0.72"/>
<line x1="270.2" x2="270.2" y1="120.6" y2="186.8" stroke="#f1f1f1" stroke-width="0.72"/>
<line x1="276.43" x2="276.43" y1="120.6" y2="186.8" stroke="#f1f1f1" stroke-width="0.72"/>
<line x1="282.66" x2="282.66" y1="120.6" y2="186.8" stroke="#f1f1f1" stroke-width="0.72"/>
<line x1="288.89" x2="288.89" y1="120.6" y2="186.8" stroke="#f1f1f1" stroke-width="0.72"/>
<line x1="295.13" x2="295.13" y1="120.6" y2="186.8" stroke="#f1f1f1" stroke-width="0.72"/>
<line x1="301.36" x2="301.36" y1="120.6" y2="186.8" stroke="#f1f1f1" stroke-width="0.72"/>
<line x1="307.59" x2="307.59" y1="120.6" y2="186.8" stroke="#f1f1f1" stroke-width="0.72"/>
<polyline points="195.3,147.3 212.2,147.2 234.4,146.6 252,146 271.8,144.5 293.6,142.9 307.6,141.8" fill="none" stroke="#1B9E77" stroke-width="1.0" stroke-opacity="0.5" stroke-linejoin="round" stroke-linecap="butt"/>
<polyline points="195.3,183.3 254,183.3 260,180.7 307.6,180.9" fill="none" stroke="#D95F02" stroke-width="1.0" stroke-opacity="0.38" stroke-linejoin="round" stroke-linecap="butt"/>
<polyline points="195.3,128.5 208.4,126.3 224.7,124.9 240,124.3 252,124.1 271.8,123.5 288.2,124.4 299.1,125.2 307.6,126.3" fill="none" stroke="#7570B3" stroke-width="1.0" stroke-opacity="0.5" stroke-linejoin="round" stroke-linecap="butt"/>
<polyline points="195.3,173.8 207.7,175.8 223.3,177.1 245.5,178.7 267.6,179.8 307.6,181.1" fill="none" stroke="#E7298A" stroke-width="1.0" stroke-opacity="0.5" stroke-linejoin="round" stroke-linecap="butt"/>
<polyline points="195.3,183.4 307.6,183.5" fill="none" stroke="#66A61E" stroke-width="1.0" stroke-opacity="0.3" stroke-linejoin="round" stroke-linecap="butt"/>
<polyline points="195.3,180.9 252,180.5 307.6,180.5" fill="none" stroke="#E6AB02" stroke-width="1.0" stroke-opacity="0.5" stroke-linejoin="round" stroke-linecap="butt"/>
<polyline points="195.3,183.2 307.6,183.3" fill="none" stroke="#A6761D" stroke-width="1.0" stroke-opacity="0.5" stroke-linejoin="round" stroke-linecap="butt"/>
<polyline points="195.3,183.4 307.6,183.5" fill="none" stroke="#666666" stroke-width="1.0" stroke-opacity="0.5" stroke-linejoin="round" stroke-linecap="butt"/>
</g>
<rect x="191.6" y="110.7" width="119.8" height="9.9" fill="#d9d9d9"/>
<path d="M191.6,120.6V111M311.4,111V120.6" fill="none" stroke="#b0b0b0" stroke-width="0.72"/>
<rect x="191.6" y="120.6" width="119.8" height="66.2" fill="none" stroke="#a0a0a0" stroke-width="0.72"/>
<text transform="translate(251.5,118.4) scale(1,1.07)" text-anchor="middle" font-size="6.05" class="s">Myanmar</text>
<line x1="189.75" x2="191.6" y1="184.3" y2="184.3" stroke="#777" stroke-width="0.72"/>
<text transform="translate(189.3,186.75) scale(1,1.07)" text-anchor="end" font-size="6.05" class="g">0</text>
<line x1="189.75" x2="191.6" y1="171.7" y2="171.7" stroke="#777" stroke-width="0.72"/>
<text transform="translate(189.3,174.15) scale(1,1.07)" text-anchor="end" font-size="6.05" class="g">100,000</text>
<line x1="189.75" x2="191.6" y1="159.1" y2="159.1" stroke="#777" stroke-width="0.72"/>
<text transform="translate(189.3,161.55) scale(1,1.07)" text-anchor="end" font-size="6.05" class="g">200,000</text>
<line x1="189.75" x2="191.6" y1="146.5" y2="146.5" stroke="#777" stroke-width="0.72"/>
<text transform="translate(189.3,148.95) scale(1,1.07)" text-anchor="end" font-size="6.05" class="g">300,000</text>
<line x1="189.75" x2="191.6" y1="133.9" y2="133.9" stroke="#777" stroke-width="0.72"/>
<text transform="translate(189.3,136.35) scale(1,1.07)" text-anchor="end" font-size="6.05" class="g">400,000</text>
<line x1="189.75" x2="191.6" y1="121.3" y2="121.3" stroke="#777" stroke-width="0.72"/>
<text transform="translate(189.3,123.75) scale(1,1.07)" text-anchor="end" font-size="6.05" class="g">500,000</text>
<line x1="195.4" x2="195.4" y1="186.8" y2="188.65" stroke="#777" stroke-width="0.72"/>
<text transform="translate(198.9,193.1) rotate(-45) scale(1,1.07)" text-anchor="end" font-size="6.05" class="g">2000</text>
<line x1="201.63" x2="201.63" y1="186.8" y2="188.65" stroke="#777" stroke-width="0.72"/>
<line x1="207.87" x2="207.87" y1="186.8" y2="188.65" stroke="#777" stroke-width="0.72"/>
<text transform="translate(211.37,193.1) rotate(-45) scale(1,1.07)" text-anchor="end" font-size="6.05" class="g">2002</text>
<line x1="214.1" x2="214.1" y1="186.8" y2="188.65" stroke="#777" stroke-width="0.72"/>
<line x1="220.33" x2="220.33" y1="186.8" y2="188.65" stroke="#777" stroke-width="0.72"/>
<text transform="translate(223.83,193.1) rotate(-45) scale(1,1.07)" text-anchor="end" font-size="6.05" class="g">2004</text>
<line x1="226.56" x2="226.56" y1="186.8" y2="188.65" stroke="#777" stroke-width="0.72"/>
<line x1="232.8" x2="232.8" y1="186.8" y2="188.65" stroke="#777" stroke-width="0.72"/>
<text transform="translate(236.3,193.1) rotate(-45) scale(1,1.07)" text-anchor="end" font-size="6.05" class="g">2006</text>
<line x1="239.03" x2="239.03" y1="186.8" y2="188.65" stroke="#777" stroke-width="0.72"/>
<line x1="245.26" x2="245.26" y1="186.8" y2="188.65" stroke="#777" stroke-width="0.72"/>
<text transform="translate(248.76,193.1) rotate(-45) scale(1,1.07)" text-anchor="end" font-size="6.05" class="g">2008</text>
<line x1="251.5" x2="251.5" y1="186.8" y2="188.65" stroke="#777" stroke-width="0.72"/>
<line x1="257.73" x2="257.73" y1="186.8" y2="188.65" stroke="#777" stroke-width="0.72"/>
<text transform="translate(261.23,193.1) rotate(-45) scale(1,1.07)" text-anchor="end" font-size="6.05" class="g">2010</text>
<line x1="263.96" x2="263.96" y1="186.8" y2="188.65" stroke="#777" stroke-width="0.72"/>
<line x1="270.2" x2="270.2" y1="186.8" y2="188.65" stroke="#777" stroke-width="0.72"/>
<text transform="translate(273.7,193.1) rotate(-45) scale(1,1.07)" text-anchor="end" font-size="6.05" class="g">2012</text>
<line x1="276.43" x2="276.43" y1="186.8" y2="188.65" stroke="#777" stroke-width="0.72"/>
<line x1="282.66" x2="282.66" y1="186.8" y2="188.65" stroke="#777" stroke-width="0.72"/>
<text transform="translate(286.16,193.1) rotate(-45) scale(1,1.07)" text-anchor="end" font-size="6.05" class="g">2014</text>
<line x1="288.89" x2="288.89" y1="186.8" y2="188.65" stroke="#777" stroke-width="0.72"/>
<line x1="295.13" x2="295.13" y1="186.8" y2="188.65" stroke="#777" stroke-width="0.72"/>
<text transform="translate(298.63,193.1) rotate(-45) scale(1,1.07)" text-anchor="end" font-size="6.05" class="g">2016</text>
<line x1="301.36" x2="301.36" y1="186.8" y2="188.65" stroke="#777" stroke-width="0.72"/>
<line x1="307.59" x2="307.59" y1="186.8" y2="188.65" stroke="#777" stroke-width="0.72"/>
<text transform="translate(311.09,193.1) rotate(-45) scale(1,1.07)" text-anchor="end" font-size="6.05" class="g">2018</text>
</g>
<g>
<rect x="338.4" y="120.6" width="119.8" height="66.2" fill="#fff"/>
<clipPath id="cPhilippines"><rect x="338.4" y="120.6" width="119.8" height="66.2"/></clipPath>
<g clip-path="url(#cPhilippines)">
<line x1="338.4" x2="458.2" y1="174.55" y2="174.55" stroke="#f6f6f6" stroke-width="0.36"/>
<line x1="338.4" x2="458.2" y1="155.45" y2="155.45" stroke="#f6f6f6" stroke-width="0.36"/>
<line x1="338.4" x2="458.2" y1="136.35" y2="136.35" stroke="#f6f6f6" stroke-width="0.36"/>
<line x1="339.08" x2="339.08" y1="120.6" y2="186.8" stroke="#f6f6f6" stroke-width="0.36"/>
<line x1="345.32" x2="345.32" y1="120.6" y2="186.8" stroke="#f6f6f6" stroke-width="0.36"/>
<line x1="351.55" x2="351.55" y1="120.6" y2="186.8" stroke="#f6f6f6" stroke-width="0.36"/>
<line x1="357.78" x2="357.78" y1="120.6" y2="186.8" stroke="#f6f6f6" stroke-width="0.36"/>
<line x1="364.02" x2="364.02" y1="120.6" y2="186.8" stroke="#f6f6f6" stroke-width="0.36"/>
<line x1="370.25" x2="370.25" y1="120.6" y2="186.8" stroke="#f6f6f6" stroke-width="0.36"/>
<line x1="376.48" x2="376.48" y1="120.6" y2="186.8" stroke="#f6f6f6" stroke-width="0.36"/>
<line x1="382.71" x2="382.71" y1="120.6" y2="186.8" stroke="#f6f6f6" stroke-width="0.36"/>
<line x1="388.95" x2="388.95" y1="120.6" y2="186.8" stroke="#f6f6f6" stroke-width="0.36"/>
<line x1="395.18" x2="395.18" y1="120.6" y2="186.8" stroke="#f6f6f6" stroke-width="0.36"/>
<line x1="401.41" x2="401.41" y1="120.6" y2="186.8" stroke="#f6f6f6" stroke-width="0.36"/>
<line x1="407.65" x2="407.65" y1="120.6" y2="186.8" stroke="#f6f6f6" stroke-width="0.36"/>
<line x1="413.88" x2="413.88" y1="120.6" y2="186.8" stroke="#f6f6f6" stroke-width="0.36"/>
<line x1="420.11" x2="420.11" y1="120.6" y2="186.8" stroke="#f6f6f6" stroke-width="0.36"/>
<line x1="426.35" x2="426.35" y1="120.6" y2="186.8" stroke="#f6f6f6" stroke-width="0.36"/>
<line x1="432.58" x2="432.58" y1="120.6" y2="186.8" stroke="#f6f6f6" stroke-width="0.36"/>
<line x1="438.81" x2="438.81" y1="120.6" y2="186.8" stroke="#f6f6f6" stroke-width="0.36"/>
<line x1="445.04" x2="445.04" y1="120.6" y2="186.8" stroke="#f6f6f6" stroke-width="0.36"/>
<line x1="451.28" x2="451.28" y1="120.6" y2="186.8" stroke="#f6f6f6" stroke-width="0.36"/>
<line x1="457.51" x2="457.51" y1="120.6" y2="186.8" stroke="#f6f6f6" stroke-width="0.36"/>
<line x1="338.4" x2="458.2" y1="184.1" y2="184.1" stroke="#f1f1f1" stroke-width="0.72"/>
<line x1="338.4" x2="458.2" y1="165" y2="165" stroke="#f1f1f1" stroke-width="0.72"/>
<line x1="338.4" x2="458.2" y1="145.9" y2="145.9" stroke="#f1f1f1" stroke-width="0.72"/>
<line x1="338.4" x2="458.2" y1="126.8" y2="126.8" stroke="#f1f1f1" stroke-width="0.72"/>
<line x1="342.2" x2="342.2" y1="120.6" y2="186.8" stroke="#f1f1f1" stroke-width="0.72"/>
<line x1="348.43" x2="348.43" y1="120.6" y2="186.8" stroke="#f1f1f1" stroke-width="0.72"/>
<line x1="354.67" x2="354.67" y1="120.6" y2="186.8" stroke="#f1f1f1" stroke-width="0.72"/>
<line x1="360.9" x2="360.9" y1="120.6" y2="186.8" stroke="#f1f1f1" stroke-width="0.72"/>
<line x1="367.13" x2="367.13" y1="120.6" y2="186.8" stroke="#f1f1f1" stroke-width="0.72"/>
<line x1="373.37" x2="373.37" y1="120.6" y2="186.8" stroke="#f1f1f1" stroke-width="0.72"/>
<line x1="379.6" x2="379.6" y1="120.6" y2="186.8" stroke="#f1f1f1" stroke-width="0.72"/>
<line x1="385.83" x2="385.83" y1="120.6" y2="186.8" stroke="#f1f1f1" stroke-width="0.72"/>
<line x1="392.06" x2="392.06" y1="120.6" y2="186.8" stroke="#f1f1f1" stroke-width="0.72"/>
<line x1="398.3" x2="398.3" y1="120.6" y2="186.8" stroke="#f1f1f1" stroke-width="0.72"/>
<line x1="404.53" x2="404.53" y1="120.6" y2="186.8" stroke="#f1f1f1" stroke-width="0.72"/>
<line x1="410.76" x2="410.76" y1="120.6" y2="186.8" stroke="#f1f1f1" stroke-width="0.72"/>
<line x1="417" x2="417" y1="120.6" y2="186.8" stroke="#f1f1f1" stroke-width="0.72"/>
<line x1="423.23" x2="423.23" y1="120.6" y2="186.8" stroke="#f1f1f1" stroke-width="0.72"/>
<line x1="429.46" x2="429.46" y1="120.6" y2="186.8" stroke="#f1f1f1" stroke-width="0.72"/>
<line x1="435.69" x2="435.69" y1="120.6" y2="186.8" stroke="#f1f1f1" stroke-width="0.72"/>
<line x1="441.93" x2="441.93" y1="120.6" y2="186.8" stroke="#f1f1f1" stroke-width="0.72"/>
<line x1="448.16" x2="448.16" y1="120.6" y2="186.8" stroke="#f1f1f1" stroke-width="0.72"/>
<line x1="454.39" x2="454.39" y1="120.6" y2="186.8" stroke="#f1f1f1" stroke-width="0.72"/>
<polyline points="342.1,138.5 359.2,138 381.4,137.1 398,136.4 419.8,135.5 441.6,134.4 454.4,133.6" fill="none" stroke="#1B9E77" stroke-width="1.0" stroke-opacity="0.5" stroke-linejoin="round" stroke-linecap="butt"/>
<polyline points="342.1,183.4 414.6,183.1 454.4,182.9" fill="none" stroke="#D95F02" stroke-width="1.0" stroke-opacity="0.38" stroke-linejoin="round" stroke-linecap="butt"/>
<polyline points="342.1,126.8 350.9,125.2 367.3,124.4 385,124.1 398,123.9 414.4,123.9 425.3,124.9 436.2,126 447.1,126.8 454.4,127.4" fill="none" stroke="#7570B3" stroke-width="1.0" stroke-opacity="0.5" stroke-linejoin="round" stroke-linecap="butt"/>
<polyline points="342.1,177.1 354.7,178.9 381.4,180.9 414.6,182 454.4,182.9" fill="none" stroke="#E7298A" stroke-width="1.0" stroke-opacity="0.5" stroke-linejoin="round" stroke-linecap="butt"/>
<polyline points="342.1,183.5 454.4,183.6" fill="none" stroke="#66A61E" stroke-width="1.0" stroke-opacity="0.3" stroke-linejoin="round" stroke-linecap="butt"/>
<polyline points="342.1,174.3 381.4,173.8 414.6,173.2 425.7,172.3 454.4,171.8" fill="none" stroke="#E6AB02" stroke-width="1.0" stroke-opacity="0.5" stroke-linejoin="round" stroke-linecap="butt"/>
<polyline points="342.1,183.1 454.4,183.3" fill="none" stroke="#A6761D" stroke-width="1.0" stroke-opacity="0.5" stroke-linejoin="round" stroke-linecap="butt"/>
<polyline points="342.1,183.7 454.4,183.8" fill="none" stroke="#666666" stroke-width="1.0" stroke-opacity="0.5" stroke-linejoin="round" stroke-linecap="butt"/>
</g>
<rect x="338.4" y="110.7" width="119.8" height="9.9" fill="#d9d9d9"/>
<path d="M338.4,120.6V111M458.2,111V120.6" fill="none" stroke="#b0b0b0" stroke-width="0.72"/>
<rect x="338.4" y="120.6" width="119.8" height="66.2" fill="none" stroke="#a0a0a0" stroke-width="0.72"/>
<text transform="translate(398.3,118.4) scale(1,1.07)" text-anchor="middle" font-size="6.05" class="s">Philippines</text>
<line x1="336.55" x2="338.4" y1="184.1" y2="184.1" stroke="#777" stroke-width="0.72"/>
<text transform="translate(336.1,186.55) scale(1,1.07)" text-anchor="end" font-size="6.05" class="g">0</text>
<line x1="336.55" x2="338.4" y1="165" y2="165" stroke="#777" stroke-width="0.72"/>
<text transform="translate(336.1,167.45) scale(1,1.07)" text-anchor="end" font-size="6.05" class="g">50,000</text>
<line x1="336.55" x2="338.4" y1="145.9" y2="145.9" stroke="#777" stroke-width="0.72"/>
<text transform="translate(336.1,148.35) scale(1,1.07)" text-anchor="end" font-size="6.05" class="g">100,000</text>
<line x1="336.55" x2="338.4" y1="126.8" y2="126.8" stroke="#777" stroke-width="0.72"/>
<text transform="translate(336.1,129.25) scale(1,1.07)" text-anchor="end" font-size="6.05" class="g">150,000</text>
<line x1="342.2" x2="342.2" y1="186.8" y2="188.65" stroke="#777" stroke-width="0.72"/>
<text transform="translate(345.7,193.1) rotate(-45) scale(1,1.07)" text-anchor="end" font-size="6.05" class="g">2000</text>
<line x1="348.43" x2="348.43" y1="186.8" y2="188.65" stroke="#777" stroke-width="0.72"/>
<line x1="354.67" x2="354.67" y1="186.8" y2="188.65" stroke="#777" stroke-width="0.72"/>
<text transform="translate(358.17,193.1) rotate(-45) scale(1,1.07)" text-anchor="end" font-size="6.05" class="g">2002</text>
<line x1="360.9" x2="360.9" y1="186.8" y2="188.65" stroke="#777" stroke-width="0.72"/>
<line x1="367.13" x2="367.13" y1="186.8" y2="188.65" stroke="#777" stroke-width="0.72"/>
<text transform="translate(370.63,193.1) rotate(-45) scale(1,1.07)" text-anchor="end" font-size="6.05" class="g">2004</text>
<line x1="373.37" x2="373.37" y1="186.8" y2="188.65" stroke="#777" stroke-width="0.72"/>
<line x1="379.6" x2="379.6" y1="186.8" y2="188.65" stroke="#777" stroke-width="0.72"/>
<text transform="translate(383.1,193.1) rotate(-45) scale(1,1.07)" text-anchor="end" font-size="6.05" class="g">2006</text>
<line x1="385.83" x2="385.83" y1="186.8" y2="188.65" stroke="#777" stroke-width="0.72"/>
<line x1="392.06" x2="392.06" y1="186.8" y2="188.65" stroke="#777" stroke-width="0.72"/>
<text transform="translate(395.56,193.1) rotate(-45) scale(1,1.07)" text-anchor="end" font-size="6.05" class="g">2008</text>
<line x1="398.3" x2="398.3" y1="186.8" y2="188.65" stroke="#777" stroke-width="0.72"/>
<line x1="404.53" x2="404.53" y1="186.8" y2="188.65" stroke="#777" stroke-width="0.72"/>
<text transform="translate(408.03,193.1) rotate(-45) scale(1,1.07)" text-anchor="end" font-size="6.05" class="g">2010</text>
<line x1="410.76" x2="410.76" y1="186.8" y2="188.65" stroke="#777" stroke-width="0.72"/>
<line x1="417" x2="417" y1="186.8" y2="188.65" stroke="#777" stroke-width="0.72"/>
<text transform="translate(420.5,193.1) rotate(-45) scale(1,1.07)" text-anchor="end" font-size="6.05" class="g">2012</text>
<line x1="423.23" x2="423.23" y1="186.8" y2="188.65" stroke="#777" stroke-width="0.72"/>
<line x1="429.46" x2="429.46" y1="186.8" y2="188.65" stroke="#777" stroke-width="0.72"/>
<text transform="translate(432.96,193.1) rotate(-45) scale(1,1.07)" text-anchor="end" font-size="6.05" class="g">2014</text>
<line x1="435.69" x2="435.69" y1="186.8" y2="188.65" stroke="#777" stroke-width="0.72"/>
<line x1="441.93" x2="441.93" y1="186.8" y2="188.65" stroke="#777" stroke-width="0.72"/>
<text transform="translate(445.43,193.1) rotate(-45) scale(1,1.07)" text-anchor="end" font-size="6.05" class="g">2016</text>
<line x1="448.16" x2="448.16" y1="186.8" y2="188.65" stroke="#777" stroke-width="0.72"/>
<line x1="454.39" x2="454.39" y1="186.8" y2="188.65" stroke="#777" stroke-width="0.72"/>
<text transform="translate(457.89,193.1) rotate(-45) scale(1,1.07)" text-anchor="end" font-size="6.05" class="g">2018</text>
</g>
<g>
<rect x="39.5" y="215.1" width="119.8" height="66.2" fill="#fff"/>
<clipPath id="cThailand"><rect x="39.5" y="215.1" width="119.8" height="66.2"/></clipPath>
<g clip-path="url(#cThailand)">
<line x1="39.5" x2="159.3" y1="270.15" y2="270.15" stroke="#f6f6f6" stroke-width="0.36"/>
<line x1="39.5" x2="159.3" y1="253.65" y2="253.65" stroke="#f6f6f6" stroke-width="0.36"/>
<line x1="39.5" x2="159.3" y1="237.15" y2="237.15" stroke="#f6f6f6" stroke-width="0.36"/>
<line x1="39.5" x2="159.3" y1="220.65" y2="220.65" stroke="#f6f6f6" stroke-width="0.36"/>
<line x1="40.18" x2="40.18" y1="215.1" y2="281.3" stroke="#f6f6f6" stroke-width="0.36"/>
<line x1="46.42" x2="46.42" y1="215.1" y2="281.3" stroke="#f6f6f6" stroke-width="0.36"/>
<line x1="52.65" x2="52.65" y1="215.1" y2="281.3" stroke="#f6f6f6" stroke-width="0.36"/>
<line x1="58.88" x2="58.88" y1="215.1" y2="281.3" stroke="#f6f6f6" stroke-width="0.36"/>
<line x1="65.12" x2="65.12" y1="215.1" y2="281.3" stroke="#f6f6f6" stroke-width="0.36"/>
<line x1="71.35" x2="71.35" y1="215.1" y2="281.3" stroke="#f6f6f6" stroke-width="0.36"/>
<line x1="77.58" x2="77.58" y1="215.1" y2="281.3" stroke="#f6f6f6" stroke-width="0.36"/>
<line x1="83.81" x2="83.81" y1="215.1" y2="281.3" stroke="#f6f6f6" stroke-width="0.36"/>
<line x1="90.05" x2="90.05" y1="215.1" y2="281.3" stroke="#f6f6f6" stroke-width="0.36"/>
<line x1="96.28" x2="96.28" y1="215.1" y2="281.3" stroke="#f6f6f6" stroke-width="0.36"/>
<line x1="102.51" x2="102.51" y1="215.1" y2="281.3" stroke="#f6f6f6" stroke-width="0.36"/>
<line x1="108.75" x2="108.75" y1="215.1" y2="281.3" stroke="#f6f6f6" stroke-width="0.36"/>
<line x1="114.98" x2="114.98" y1="215.1" y2="281.3" stroke="#f6f6f6" stroke-width="0.36"/>
<line x1="121.21" x2="121.21" y1="215.1" y2="281.3" stroke="#f6f6f6" stroke-width="0.36"/>
<line x1="127.45" x2="127.45" y1="215.1" y2="281.3" stroke="#f6f6f6" stroke-width="0.36"/>
<line x1="133.68" x2="133.68" y1="215.1" y2="281.3" stroke="#f6f6f6" stroke-width="0.36"/>
<line x1="139.91" x2="139.91" y1="215.1" y2="281.3" stroke="#f6f6f6" stroke-width="0.36"/>
<line x1="146.14" x2="146.14" y1="215.1" y2="281.3" stroke="#f6f6f6" stroke-width="0.36"/>
<line x1="152.38" x2="152.38" y1="215.1" y2="281.3" stroke="#f6f6f6" stroke-width="0.36"/>
<line x1="158.61" x2="158.61" y1="215.1" y2="281.3" stroke="#f6f6f6" stroke-width="0.36"/>
<line x1="39.5" x2="159.3" y1="278.4" y2="278.4" stroke="#f1f1f1" stroke-width="0.72"/>
<line x1="39.5" x2="159.3" y1="261.9" y2="261.9" stroke="#f1f1f1" stroke-width="0.72"/>
<line x1="39.5" x2="159.3" y1="245.4" y2="245.4" stroke="#f1f1f1" stroke-width="0.72"/>
<line x1="39.5" x2="159.3" y1="228.9" y2="228.9" stroke="#f1f1f1" stroke-width="0.72"/>
<line x1="43.3" x2="43.3" y1="215.1" y2="281.3" stroke="#f1f1f1" stroke-width="0.72"/>
<line x1="49.53" x2="49.53" y1="215.1" y2="281.3" stroke="#f1f1f1" stroke-width="0.72"/>
<line x1="55.77" x2="55.77" y1="215.1" y2="281.3" stroke="#f1f1f1" stroke-width="0.72"/>
<line x1="62" x2="62" y1="215.1" y2="281.3" stroke="#f1f1f1" stroke-width="0.72"/>
<line x1="68.23" x2="68.23" y1="215.1" y2="281.3" stroke="#f1f1f1" stroke-width="0.72"/>
<line x1="74.47" x2="74.47" y1="215.1" y2="281.3" stroke="#f1f1f1" stroke-width="0.72"/>
<line x1="80.7" x2="80.7" y1="215.1" y2="281.3" stroke="#f1f1f1" stroke-width="0.72"/>
<line x1="86.93" x2="86.93" y1="215.1" y2="281.3" stroke="#f1f1f1" stroke-width="0.72"/>
<line x1="93.16" x2="93.16" y1="215.1" y2="281.3" stroke="#f1f1f1" stroke-width="0.72"/>
<line x1="99.4" x2="99.4" y1="215.1" y2="281.3" stroke="#f1f1f1" stroke-width="0.72"/>
<line x1="105.63" x2="105.63" y1="215.1" y2="281.3" stroke="#f1f1f1" stroke-width="0.72"/>
<line x1="111.86" x2="111.86" y1="215.1" y2="281.3" stroke="#f1f1f1" stroke-width="0.72"/>
<line x1="118.1" x2="118.1" y1="215.1" y2="281.3" stroke="#f1f1f1" stroke-width="0.72"/>
<line x1="124.33" x2="124.33" y1="215.1" y2="281.3" stroke="#f1f1f1" stroke-width="0.72"/>
<line x1="130.56" x2="130.56" y1="215.1" y2="281.3" stroke="#f1f1f1" stroke-width="0.72"/>
<line x1="136.79" x2="136.79" y1="215.1" y2="281.3" stroke="#f1f1f1" stroke-width="0.72"/>
<line x1="143.03" x2="143.03" y1="215.1" y2="281.3" stroke="#f1f1f1" stroke-width="0.72"/>
<line x1="149.26" x2="149.26" y1="215.1" y2="281.3" stroke="#f1f1f1" stroke-width="0.72"/>
<line x1="155.49" x2="155.49" y1="215.1" y2="281.3" stroke="#f1f1f1" stroke-width="0.72"/>
<polyline points="43.4,222.1 60.2,222.1 82.4,221.4 104.5,220.7 126.7,219.8 155.6,218.5" fill="none" stroke="#1B9E77" stroke-width="1.0" stroke-opacity="0.5" stroke-linejoin="round" stroke-linecap="butt"/>
<polyline points="43.4,278 100,277.9 155.6,277.5" fill="none" stroke="#D95F02" stroke-width="1.0" stroke-opacity="0.38" stroke-linejoin="round" stroke-linecap="butt"/>
<polyline points="43.4,251.15 60.2,250.45 82.4,249.75 104.5,250.05 126.7,250.65 140,251.35 155.6,252.65" fill="none" stroke="#7570B3" stroke-width="1.0" stroke-opacity="0.5" stroke-linejoin="round" stroke-linecap="butt"/>
<polyline points="43.4,274.9 80,275.6 100,276.7 155.6,277.8" fill="none" stroke="#E7298A" stroke-width="1.0" stroke-opacity="0.5" stroke-linejoin="round" stroke-linecap="butt"/>
<polyline points="43.4,278 155.6,278" fill="none" stroke="#66A61E" stroke-width="1.0" stroke-opacity="0.3" stroke-linejoin="round" stroke-linecap="butt"/>
<polyline points="43.4,273.5 100,273.5 155.6,273" fill="none" stroke="#E6AB02" stroke-width="1.0" stroke-opacity="0.5" stroke-linejoin="round" stroke-linecap="butt"/>
<polyline points="43.4,277.8 155.6,277.8" fill="none" stroke="#A6761D" stroke-width="1.0" stroke-opacity="0.5" stroke-linejoin="round" stroke-linecap="butt"/>
<polyline points="43.4,278.2 155.6,278.2" fill="none" stroke="#666666" stroke-width="1.0" stroke-opacity="0.5" stroke-linejoin="round" stroke-linecap="butt"/>
</g>
<rect x="39.5" y="205.2" width="119.8" height="9.9" fill="#d9d9d9"/>
<path d="M39.5,215.1V205.5M159.3,205.5V215.1" fill="none" stroke="#b0b0b0" stroke-width="0.72"/>
<rect x="39.5" y="215.1" width="119.8" height="66.2" fill="none" stroke="#a0a0a0" stroke-width="0.72"/>
<text transform="translate(99.4,212.9) scale(1,1.07)" text-anchor="middle" font-size="6.05" class="s">Thailand</text>
<line x1="37.65" x2="39.5" y1="278.4" y2="278.4" stroke="#777" stroke-width="0.72"/>
<text transform="translate(37.2,280.85) scale(1,1.07)" text-anchor="end" font-size="6.05" class="g">0</text>
<line x1="37.65" x2="39.5" y1="261.9" y2="261.9" stroke="#777" stroke-width="0.72"/>
<text transform="translate(37.2,264.35) scale(1,1.07)" text-anchor="end" font-size="6.05" class="g">100,000</text>
<line x1="37.65" x2="39.5" y1="245.4" y2="245.4" stroke="#777" stroke-width="0.72"/>
<text transform="translate(37.2,247.85) scale(1,1.07)" text-anchor="end" font-size="6.05" class="g">200,000</text>
<line x1="37.65" x2="39.5" y1="228.9" y2="228.9" stroke="#777" stroke-width="0.72"/>
<text transform="translate(37.2,231.35) scale(1,1.07)" text-anchor="end" font-size="6.05" class="g">300,000</text>
<line x1="43.3" x2="43.3" y1="281.3" y2="283.15" stroke="#777" stroke-width="0.72"/>
<text transform="translate(46.8,287.6) rotate(-45) scale(1,1.07)" text-anchor="end" font-size="6.05" class="g">2000</text>
<line x1="49.53" x2="49.53" y1="281.3" y2="283.15" stroke="#777" stroke-width="0.72"/>
<line x1="55.77" x2="55.77" y1="281.3" y2="283.15" stroke="#777" stroke-width="0.72"/>
<text transform="translate(59.27,287.6) rotate(-45) scale(1,1.07)" text-anchor="end" font-size="6.05" class="g">2002</text>
<line x1="62" x2="62" y1="281.3" y2="283.15" stroke="#777" stroke-width="0.72"/>
<line x1="68.23" x2="68.23" y1="281.3" y2="283.15" stroke="#777" stroke-width="0.72"/>
<text transform="translate(71.73,287.6) rotate(-45) scale(1,1.07)" text-anchor="end" font-size="6.05" class="g">2004</text>
<line x1="74.47" x2="74.47" y1="281.3" y2="283.15" stroke="#777" stroke-width="0.72"/>
<line x1="80.7" x2="80.7" y1="281.3" y2="283.15" stroke="#777" stroke-width="0.72"/>
<text transform="translate(84.2,287.6) rotate(-45) scale(1,1.07)" text-anchor="end" font-size="6.05" class="g">2006</text>
<line x1="86.93" x2="86.93" y1="281.3" y2="283.15" stroke="#777" stroke-width="0.72"/>
<line x1="93.16" x2="93.16" y1="281.3" y2="283.15" stroke="#777" stroke-width="0.72"/>
<text transform="translate(96.66,287.6) rotate(-45) scale(1,1.07)" text-anchor="end" font-size="6.05" class="g">2008</text>
<line x1="99.4" x2="99.4" y1="281.3" y2="283.15" stroke="#777" stroke-width="0.72"/>
<line x1="105.63" x2="105.63" y1="281.3" y2="283.15" stroke="#777" stroke-width="0.72"/>
<text transform="translate(109.13,287.6) rotate(-45) scale(1,1.07)" text-anchor="end" font-size="6.05" class="g">2010</text>
<line x1="111.86" x2="111.86" y1="281.3" y2="283.15" stroke="#777" stroke-width="0.72"/>
<line x1="118.1" x2="118.1" y1="281.3" y2="283.15" stroke="#777" stroke-width="0.72"/>
<text transform="translate(121.6,287.6) rotate(-45) scale(1,1.07)" text-anchor="end" font-size="6.05" class="g">2012</text>
<line x1="124.33" x2="124.33" y1="281.3" y2="283.15" stroke="#777" stroke-width="0.72"/>
<line x1="130.56" x2="130.56" y1="281.3" y2="283.15" stroke="#777" stroke-width="0.72"/>
<text transform="translate(134.06,287.6) rotate(-45) scale(1,1.07)" text-anchor="end" font-size="6.05" class="g">2014</text>
<line x1="136.79" x2="136.79" y1="281.3" y2="283.15" stroke="#777" stroke-width="0.72"/>
<line x1="143.03" x2="143.03" y1="281.3" y2="283.15" stroke="#777" stroke-width="0.72"/>
<text transform="translate(146.53,287.6) rotate(-45) scale(1,1.07)" text-anchor="end" font-size="6.05" class="g">2016</text>
<line x1="149.26" x2="149.26" y1="281.3" y2="283.15" stroke="#777" stroke-width="0.72"/>
<line x1="155.49" x2="155.49" y1="281.3" y2="283.15" stroke="#777" stroke-width="0.72"/>
<text transform="translate(158.99,287.6) rotate(-45) scale(1,1.07)" text-anchor="end" font-size="6.05" class="g">2018</text>
</g>
<g>
<rect x="191.6" y="215.1" width="119.8" height="66.2" fill="#fff"/>
<clipPath id="cVietnam"><rect x="191.6" y="215.1" width="119.8" height="66.2"/></clipPath>
<g clip-path="url(#cVietnam)">
<line x1="191.6" x2="311.4" y1="271.5" y2="271.5" stroke="#f6f6f6" stroke-width="0.36"/>
<line x1="191.6" x2="311.4" y1="257.3" y2="257.3" stroke="#f6f6f6" stroke-width="0.36"/>
<line x1="191.6" x2="311.4" y1="243.1" y2="243.1" stroke="#f6f6f6" stroke-width="0.36"/>
<line x1="191.6" x2="311.4" y1="228.9" y2="228.9" stroke="#f6f6f6" stroke-width="0.36"/>
<line x1="191.6" x2="311.4" y1="214.7" y2="214.7" stroke="#f6f6f6" stroke-width="0.36"/>
<line x1="192.28" x2="192.28" y1="215.1" y2="281.3" stroke="#f6f6f6" stroke-width="0.36"/>
<line x1="198.52" x2="198.52" y1="215.1" y2="281.3" stroke="#f6f6f6" stroke-width="0.36"/>
<line x1="204.75" x2="204.75" y1="215.1" y2="281.3" stroke="#f6f6f6" stroke-width="0.36"/>
<line x1="210.98" x2="210.98" y1="215.1" y2="281.3" stroke="#f6f6f6" stroke-width="0.36"/>
<line x1="217.22" x2="217.22" y1="215.1" y2="281.3" stroke="#f6f6f6" stroke-width="0.36"/>
<line x1="223.45" x2="223.45" y1="215.1" y2="281.3" stroke="#f6f6f6" stroke-width="0.36"/>
<line x1="229.68" x2="229.68" y1="215.1" y2="281.3" stroke="#f6f6f6" stroke-width="0.36"/>
<line x1="235.91" x2="235.91" y1="215.1" y2="281.3" stroke="#f6f6f6" stroke-width="0.36"/>
<line x1="242.15" x2="242.15" y1="215.1" y2="281.3" stroke="#f6f6f6" stroke-width="0.36"/>
<line x1="248.38" x2="248.38" y1="215.1" y2="281.3" stroke="#f6f6f6" stroke-width="0.36"/>
<line x1="254.61" x2="254.61" y1="215.1" y2="281.3" stroke="#f6f6f6" stroke-width="0.36"/>
<line x1="260.85" x2="260.85" y1="215.1" y2="281.3" stroke="#f6f6f6" stroke-width="0.36"/>
<line x1="267.08" x2="267.08" y1="215.1" y2="281.3" stroke="#f6f6f6" stroke-width="0.36"/>
<line x1="273.31" x2="273.31" y1="215.1" y2="281.3" stroke="#f6f6f6" stroke-width="0.36"/>
<line x1="279.55" x2="279.55" y1="215.1" y2="281.3" stroke="#f6f6f6" stroke-width="0.36"/>
<line x1="285.78" x2="285.78" y1="215.1" y2="281.3" stroke="#f6f6f6" stroke-width="0.36"/>
<line x1="292.01" x2="292.01" y1="215.1" y2="281.3" stroke="#f6f6f6" stroke-width="0.36"/>
<line x1="298.24" x2="298.24" y1="215.1" y2="281.3" stroke="#f6f6f6" stroke-width="0.36"/>
<line x1="304.48" x2="304.48" y1="215.1" y2="281.3" stroke="#f6f6f6" stroke-width="0.36"/>
<line x1="310.71" x2="310.71" y1="215.1" y2="281.3" stroke="#f6f6f6" stroke-width="0.36"/>
<line x1="191.6" x2="311.4" y1="278.6" y2="278.6" stroke="#f1f1f1" stroke-width="0.72"/>
<line x1="191.6" x2="311.4" y1="264.4" y2="264.4" stroke="#f1f1f1" stroke-width="0.72"/>
<line x1="191.6" x2="311.4" y1="250.2" y2="250.2" stroke="#f1f1f1" stroke-width="0.72"/>
<line x1="191.6" x2="311.4" y1="236" y2="236" stroke="#f1f1f1" stroke-width="0.72"/>
<line x1="191.6" x2="311.4" y1="221.8" y2="221.8" stroke="#f1f1f1" stroke-width="0.72"/>
<line x1="195.4" x2="195.4" y1="215.1" y2="281.3" stroke="#f1f1f1" stroke-width="0.72"/>
<line x1="201.63" x2="201.63" y1="215.1" y2="281.3" stroke="#f1f1f1" stroke-width="0.72"/>
<line x1="207.87" x2="207.87" y1="215.1" y2="281.3" stroke="#f1f1f1" stroke-width="0.72"/>
<line x1="214.1" x2="214.1" y1="215.1" y2="281.3" stroke="#f1f1f1" stroke-width="0.72"/>
<line x1="220.33" x2="220.33" y1="215.1" y2="281.3" stroke="#f1f1f1" stroke-width="0.72"/>
<line x1="226.56" x2="226.56" y1="215.1" y2="281.3" stroke="#f1f1f1" stroke-width="0.72"/>
<line x1="232.8" x2="232.8" y1="215.1" y2="281.3" stroke="#f1f1f1" stroke-width="0.72"/>
<line x1="239.03" x2="239.03" y1="215.1" y2="281.3" stroke="#f1f1f1" stroke-width="0.72"/>
<line x1="245.26" x2="245.26" y1="215.1" y2="281.3" stroke="#f1f1f1" stroke-width="0.72"/>
<line x1="251.5" x2="251.5" y1="215.1" y2="281.3" stroke="#f1f1f1" stroke-width="0.72"/>
<line x1="257.73" x2="257.73" y1="215.1" y2="281.3" stroke="#f1f1f1" stroke-width="0.72"/>
<line x1="263.96" x2="263.96" y1="215.1" y2="281.3" stroke="#f1f1f1" stroke-width="0.72"/>
<line x1="270.2" x2="270.2" y1="215.1" y2="281.3" stroke="#f1f1f1" stroke-width="0.72"/>
<line x1="276.43" x2="276.43" y1="215.1" y2="281.3" stroke="#f1f1f1" stroke-width="0.72"/>
<line x1="282.66" x2="282.66" y1="215.1" y2="281.3" stroke="#f1f1f1" stroke-width="0.72"/>
<line x1="288.89" x2="288.89" y1="215.1" y2="281.3" stroke="#f1f1f1" stroke-width="0.72"/>
<line x1="295.13" x2="295.13" y1="215.1" y2="281.3" stroke="#f1f1f1" stroke-width="0.72"/>
<line x1="301.36" x2="301.36" y1="215.1" y2="281.3" stroke="#f1f1f1" stroke-width="0.72"/>
<line x1="307.59" x2="307.59" y1="215.1" y2="281.3" stroke="#f1f1f1" stroke-width="0.72"/>
<polyline points="195.3,227.4 202.9,227.1 213.8,226.8 224.7,226.2 235.6,225.7 250,224.9 260.9,223.8 271.8,222.7 282.7,221.4 293.6,220.3 307.6,218.4" fill="none" stroke="#1B9E77" stroke-width="1.0" stroke-opacity="0.5" stroke-linejoin="round" stroke-linecap="butt"/>
<polyline points="195.3,277.5 252,277.6 307.6,277.6" fill="none" stroke="#D95F02" stroke-width="1.0" stroke-opacity="0.38" stroke-linejoin="round" stroke-linecap="butt"/>
<polyline points="195.3,238.9 200.7,237.5 210,237.2 219.3,237.2 235.6,237.8 250,238.2 260.9,238.5 277.3,239.6 288.2,241 299.1,242.9 307.6,244.3" fill="none" stroke="#7570B3" stroke-width="1.0" stroke-opacity="0.5" stroke-linejoin="round" stroke-linecap="butt"/>
<polyline points="195.3,272.4 219,274 252,275.6 307.6,277.3" fill="none" stroke="#E7298A" stroke-width="1.0" stroke-opacity="0.5" stroke-linejoin="round" stroke-linecap="butt"/>
<polyline points="195.3,277.9 307.6,277.9" fill="none" stroke="#66A61E" stroke-width="1.0" stroke-opacity="0.3" stroke-linejoin="round" stroke-linecap="butt"/>
<polyline points="195.3,269.4 252,268.5 307.6,267.2" fill="none" stroke="#E6AB02" stroke-width="1.0" stroke-opacity="0.5" stroke-linejoin="round" stroke-linecap="butt"/>
<polyline points="195.3,277.7 307.6,277.7" fill="none" stroke="#A6761D" stroke-width="1.0" stroke-opacity="0.5" stroke-linejoin="round" stroke-linecap="butt"/>
<polyline points="195.3,278.2 307.6,278.2" fill="none" stroke="#666666" stroke-width="1.0" stroke-opacity="0.5" stroke-linejoin="round" stroke-linecap="butt"/>
</g>
<rect x="191.6" y="205.2" width="119.8" height="9.9" fill="#d9d9d9"/>
<path d="M191.6,215.1V205.5M311.4,205.5V215.1" fill="none" stroke="#b0b0b0" stroke-width="0.72"/>
<rect x="191.6" y="215.1" width="119.8" height="66.2" fill="none" stroke="#a0a0a0" stroke-width="0.72"/>
<text transform="translate(251.5,212.9) scale(1,1.07)" text-anchor="middle" font-size="6.05" class="s">Vietnam</text>
<line x1="189.75" x2="191.6" y1="278.6" y2="278.6" stroke="#777" stroke-width="0.72"/>
<text transform="translate(189.3,281.05) scale(1,1.07)" text-anchor="end" font-size="6.05" class="g">0</text>
<line x1="189.75" x2="191.6" y1="264.4" y2="264.4" stroke="#777" stroke-width="0.72"/>
<text transform="translate(189.3,266.85) scale(1,1.07)" text-anchor="end" font-size="6.05" class="g">50,000</text>
<line x1="189.75" x2="191.6" y1="250.2" y2="250.2" stroke="#777" stroke-width="0.72"/>
<text transform="translate(189.3,252.65) scale(1,1.07)" text-anchor="end" font-size="6.05" class="g">100,000</text>
<line x1="189.75" x2="191.6" y1="236" y2="236" stroke="#777" stroke-width="0.72"/>
<text transform="translate(189.3,238.45) scale(1,1.07)" text-anchor="end" font-size="6.05" class="g">150,000</text>
<line x1="189.75" x2="191.6" y1="221.8" y2="221.8" stroke="#777" stroke-width="0.72"/>
<text transform="translate(189.3,224.25) scale(1,1.07)" text-anchor="end" font-size="6.05" class="g">200,000</text>
<line x1="195.4" x2="195.4" y1="281.3" y2="283.15" stroke="#777" stroke-width="0.72"/>
<text transform="translate(198.9,287.6) rotate(-45) scale(1,1.07)" text-anchor="end" font-size="6.05" class="g">2000</text>
<line x1="201.63" x2="201.63" y1="281.3" y2="283.15" stroke="#777" stroke-width="0.72"/>
<line x1="207.87" x2="207.87" y1="281.3" y2="283.15" stroke="#777" stroke-width="0.72"/>
<text transform="translate(211.37,287.6) rotate(-45) scale(1,1.07)" text-anchor="end" font-size="6.05" class="g">2002</text>
<line x1="214.1" x2="214.1" y1="281.3" y2="283.15" stroke="#777" stroke-width="0.72"/>
<line x1="220.33" x2="220.33" y1="281.3" y2="283.15" stroke="#777" stroke-width="0.72"/>
<text transform="translate(223.83,287.6) rotate(-45) scale(1,1.07)" text-anchor="end" font-size="6.05" class="g">2004</text>
<line x1="226.56" x2="226.56" y1="281.3" y2="283.15" stroke="#777" stroke-width="0.72"/>
<line x1="232.8" x2="232.8" y1="281.3" y2="283.15" stroke="#777" stroke-width="0.72"/>
<text transform="translate(236.3,287.6) rotate(-45) scale(1,1.07)" text-anchor="end" font-size="6.05" class="g">2006</text>
<line x1="239.03" x2="239.03" y1="281.3" y2="283.15" stroke="#777" stroke-width="0.72"/>
<line x1="245.26" x2="245.26" y1="281.3" y2="283.15" stroke="#777" stroke-width="0.72"/>
<text transform="translate(248.76,287.6) rotate(-45) scale(1,1.07)" text-anchor="end" font-size="6.05" class="g">2008</text>
<line x1="251.5" x2="251.5" y1="281.3" y2="283.15" stroke="#777" stroke-width="0.72"/>
<line x1="257.73" x2="257.73" y1="281.3" y2="283.15" stroke="#777" stroke-width="0.72"/>
<text transform="translate(261.23,287.6) rotate(-45) scale(1,1.07)" text-anchor="end" font-size="6.05" class="g">2010</text>
<line x1="263.96" x2="263.96" y1="281.3" y2="283.15" stroke="#777" stroke-width="0.72"/>
<line x1="270.2" x2="270.2" y1="281.3" y2="283.15" stroke="#777" stroke-width="0.72"/>
<text transform="translate(273.7,287.6) rotate(-45) scale(1,1.07)" text-anchor="end" font-size="6.05" class="g">2012</text>
<line x1="276.43" x2="276.43" y1="281.3" y2="283.15" stroke="#777" stroke-width="0.72"/>
<line x1="282.66" x2="282.66" y1="281.3" y2="283.15" stroke="#777" stroke-width="0.72"/>
<text transform="translate(286.16,287.6) rotate(-45) scale(1,1.07)" text-anchor="end" font-size="6.05" class="g">2014</text>
<line x1="288.89" x2="288.89" y1="281.3" y2="283.15" stroke="#777" stroke-width="0.72"/>
<line x1="295.13" x2="295.13" y1="281.3" y2="283.15" stroke="#777" stroke-width="0.72"/>
<text transform="translate(298.63,287.6) rotate(-45) scale(1,1.07)" text-anchor="end" font-size="6.05" class="g">2016</text>
<line x1="301.36" x2="301.36" y1="281.3" y2="283.15" stroke="#777" stroke-width="0.72"/>
<line x1="307.59" x2="307.59" y1="281.3" y2="283.15" stroke="#777" stroke-width="0.72"/>
<text transform="translate(311.09,287.6) rotate(-45) scale(1,1.07)" text-anchor="end" font-size="6.05" class="g">2018</text>
</g>
<text transform="translate(466.0,122.5) scale(1,1.05)" font-size="7.75" class="k0">MSPA Class</text>
<line x1="466.6" x2="473.8" y1="131" y2="131" stroke="#1B9E77" stroke-width="1.0" stroke-opacity="0.4"/>
<text transform="translate(478.0,133.45) scale(1,1.07)" font-size="6.05" class="k0">Background or Opening</text>
<line x1="466.6" x2="473.8" y1="139.08" y2="139.08" stroke="#D95F02" stroke-width="1.0" stroke-opacity="0.4"/>
<text transform="translate(478.0,141.53) scale(1,1.07)" font-size="6.05" class="k0">Branch</text>
<line x1="466.6" x2="473.8" y1="147.16" y2="147.16" stroke="#7570B3" stroke-width="1.0" stroke-opacity="0.4"/>
<text transform="translate(478.0,149.61) scale(1,1.07)" font-size="6.05" class="k0">Bridge</text>
<line x1="466.6" x2="473.8" y1="155.24" y2="155.24" stroke="#E7298A" stroke-width="1.0" stroke-opacity="0.4"/>
<text transform="translate(478.0,157.69) scale(1,1.07)" font-size="6.05" class="k0">Core</text>
<line x1="466.6" x2="473.8" y1="163.32" y2="163.32" stroke="#66A61E" stroke-width="1.0" stroke-opacity="0.4"/>
<text transform="translate(478.0,165.77) scale(1,1.07)" font-size="6.05" class="k0">Edge</text>
<line x1="466.6" x2="473.8" y1="171.4" y2="171.4" stroke="#E6AB02" stroke-width="1.0" stroke-opacity="0.4"/>
<text transform="translate(478.0,173.85) scale(1,1.07)" font-size="6.05" class="k0">Islet</text>
<line x1="466.6" x2="473.8" y1="179.48" y2="179.48" stroke="#A6761D" stroke-width="1.0" stroke-opacity="0.4"/>
<text transform="translate(478.0,181.93) scale(1,1.07)" font-size="6.05" class="k0">Loop</text>
<line x1="466.6" x2="473.8" y1="187.56" y2="187.56" stroke="#666666" stroke-width="1.0" stroke-opacity="0.4"/>
<text transform="translate(478.0,190.01) scale(1,1.07)" font-size="6.05" class="k0">Perforation</text>
</g></svg></body></html>
